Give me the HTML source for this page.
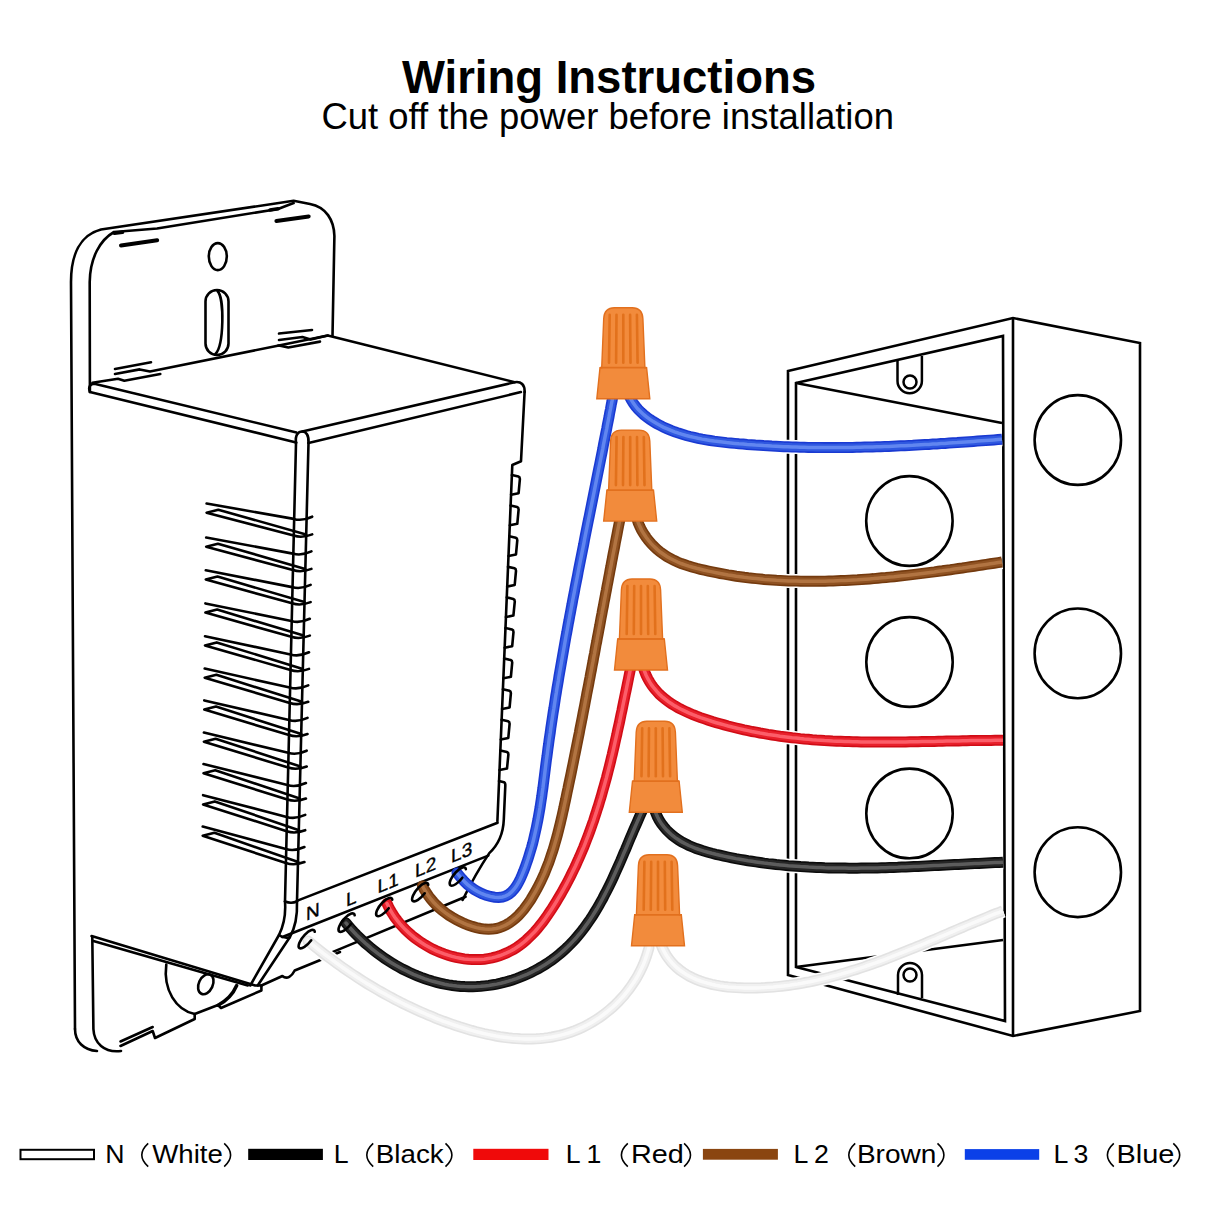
<!DOCTYPE html>
<html><head><meta charset="utf-8">
<style>
html,body{margin:0;padding:0;background:#fff;}
body{width:1214px;height:1214px;overflow:hidden;position:relative;}
svg{position:absolute;left:0;top:0;}
text{font-family:"Liberation Sans",sans-serif;}
</style></head><body>
<svg width="1214" height="1214" viewBox="0 0 1214 1214">
<rect width="1214" height="1214" fill="#fff"/>
<text x="402" y="92.5" font-size="45.5" font-weight="bold" fill="#000" textLength="414" lengthAdjust="spacingAndGlyphs">Wiring Instructions</text>
<text x="321.5" y="129" font-size="36" fill="#000" textLength="572.5" lengthAdjust="spacingAndGlyphs">Cut off the power before installation</text>

<g id="box" fill="none" stroke="#000" stroke-width="2.6" stroke-linejoin="miter">
<polygon points="788,371 1013,318 1140,343 1140,1011 1013,1036 788,975" fill="#fff"/>
<line x1="1013" y1="318" x2="1013" y2="1036"/>
<polygon points="796,383 1003,336 1005,1021 796,967"/>
<line x1="796" y1="383" x2="1002" y2="423"/>
<line x1="796" y1="967" x2="1003" y2="940"/>
<ellipse cx="1077.8" cy="440" rx="43.2" ry="44.9"/>
<ellipse cx="1077.8" cy="653.4" rx="43.2" ry="44.9"/>
<ellipse cx="1077.8" cy="872.2" rx="43.2" ry="44.9"/>
<ellipse cx="909.4" cy="521" rx="43.2" ry="44.9"/>
<ellipse cx="909.5" cy="662" rx="43.2" ry="44.9"/>
<ellipse cx="909.5" cy="813.5" rx="43.2" ry="44.9"/>
<path d="M897.5,359 V381 A12.2,12.2 0 0 0 921.9,381 V356" stroke-width="2.5"/>
<circle cx="910" cy="382" r="6.5" stroke-width="2.5"/>
<path d="M898,995 V975 A12,12 0 0 1 922,975 V998" stroke-width="2.5"/>
<circle cx="910" cy="975" r="6.5" stroke-width="2.5"/>
</g>

<g id="switch" fill="none" stroke="#000" stroke-width="2.6" stroke-linecap="round" stroke-linejoin="round">
<!-- plate outer -->
<path d="M75,1029 L71,282 C71,255 80,235 101,229.5 L293.6,200.8 L310,204 C326,207 334,220 334.4,236 L332.5,336"/>
<path d="M75,1029 C75,1042 84,1050 97,1051"/>
<!-- plate inner -->
<path d="M89.9,392 L89.7,282 C90,258 100,240 114,232 L157,228.5 L278,209 L293.6,203"/>
<path d="M92.3,937 L93.4,1029 C94,1043 104,1053 121,1051"/>
<ellipse cx="217.8" cy="256.6" rx="9" ry="13.5"/>
<rect x="205.5" y="290" width="23" height="65" rx="11.5"/>
<path d="M217.5,291 C224.5,298 224,345 215.5,354"/>
<path d="M121,245.5 L157.2,240.2" stroke-width="4"/>
<path d="M114.5,233.3 L122.5,232.2" stroke-width="3.6"/>
<path d="M270,210 L278,208.8" stroke-width="3.6"/>
<path d="M276.4,221 L308.7,216.4" stroke-width="4"/>
<!-- marks near top face -->
<path d="M115,369 L151,362.2"/>
<path d="M115,374 L139.7,369.4 L150,371.5 L277.7,345.7"/>
<path d="M92.4,382.8 L118,378.7 L124.3,380.7 L160.3,374"/>
<path d="M279,333.5 L312,330"/>
<path d="M279,340 L302.4,337 L310.6,339.6 L327.8,335.6"/>
<path d="M279,345.5 L288.3,347.5 L320,341.6"/>
<path d="M277.7,345.7 L327.8,335.6 L514.7,382.2"/>
<!-- top face front edge -->
<path d="M94.4,383.8 L296.5,432.5 M89.9,392 C88,387 90,384 94.4,383.8 M89.9,392 L296.2,442.5"/>
<path d="M296,443 C295,435 298,431.5 302.3,431.5 C306,431.5 309,435 308.5,443"/>
<path d="M302.3,431.5 L514.7,382.2 C521,381 525,385 524.6,392"/>
<path d="M308.5,443 L520.9,392.1"/>
<!-- body front verticals -->
<path d="M296,443 L285,901.5"/>
<path d="M308.5,443 L297,901.5"/>
<path d="M285,901.5 Q291,904 297,901.5"/>
<!-- terminal strip -->
<path d="M296.8,900.9 L497.6,822.7"/>
<path d="M499,781 L504,782.2 Q505.5,783 505.3,786 L503.8,819.5 C503.3,833 498,845 489.3,853.1 C482,864 470,885 462.6,900"/>
<path d="M282.4,937 L488.3,855.6"/>
<path d="M331.8,952.4 L465.6,896.8"/>
<path d="M285,901.5 C286,915 284,925 279,935 L250.3,985.5"/>
<path d="M297,901.5 C297.5,915 295,928 289.8,937.3 L257.7,985.5"/>
<path d="M279,935 Q284,939 289.8,937.3"/>
<path d="M261.4,985.5 L282.4,976 C287,980 292,976 294.7,970.5 L340,952"/>
<!-- bottom plate -->
<path d="M91.6,936 L255.2,985.5 L261.4,985.5"/>
<path d="M93.4,941 L247.8,985.5"/>
<path d="M120.5,1046 L152.7,1031 L155,1038 L194.7,1019 L194.7,1014 L218,1005 L221,1008 L261.4,990.5 L261.4,985.5"/>
<path d="M120.5,1041.5 L152.7,1027"/>
<path d="M166.3,964.5 C163,990 176,1010 194.7,1014"/>
<path d="M236.7,985.5 C233,994 226,1001 218.1,1005.2" stroke-width="3.5"/>
<ellipse cx="205.8" cy="984.2" rx="7" ry="10.5" transform="rotate(25 205.8 984.2)"/>

<path d="M206.6,503.5 L293.7,518.9 Q302.0,521.5 312.2,516.7"/>
<path d="M306.0,534.4 L218.3,509.7 L206.6,512.7 L293.7,535.6 Q302.0,538.5 312.2,534.4"/>
<path d="M206.2,537.5 L292.9,553.6 Q301.2,556.2 311.4,551.4"/>
<path d="M305.2,568.9 L217.9,543.7 L206.2,546.7 L292.9,570.0 Q301.2,572.9 311.4,568.9"/>
<path d="M205.8,570.3 L292.1,587.1 Q300.4,589.7 310.6,584.9"/>
<path d="M304.4,602.1 L217.5,576.5 L205.8,579.5 L292.1,603.3 Q300.4,606.2 310.6,602.1"/>
<path d="M205.4,603.4 L291.3,620.9 Q299.6,623.5 309.8,618.8"/>
<path d="M303.6,635.6 L217.1,609.6 L205.4,612.6 L291.3,636.8 Q299.6,639.7 309.8,635.6"/>
<path d="M205.0,636.2 L290.5,654.4 Q298.8,657.0 309.0,652.3"/>
<path d="M302.8,668.9 L216.7,642.4 L205.0,645.4 L290.5,670.0 Q298.8,672.9 309.0,668.9"/>
<path d="M204.7,668.6 L289.7,687.5 Q298.0,690.1 308.2,685.4"/>
<path d="M302.0,701.8 L216.4,674.8 L204.7,677.8 L289.7,702.9 Q298.0,705.8 308.2,701.8"/>
<path d="M204.3,700.4 L289.0,720.0 Q297.3,722.6 307.5,717.9"/>
<path d="M301.3,734.0 L216.0,706.6 L204.3,709.6 L289.0,735.1 Q297.3,738.0 307.5,734.0"/>
<path d="M203.9,732.5 L288.2,752.8 Q296.5,755.4 306.7,750.7"/>
<path d="M300.5,766.5 L215.6,738.7 L203.9,741.7 L288.2,767.6 Q296.5,770.5 306.7,766.5"/>
<path d="M203.5,764.0 L287.4,785.0 Q295.7,787.6 305.9,783.0"/>
<path d="M299.7,798.5 L215.2,770.2 L203.5,773.2 L287.4,799.5 Q295.7,802.4 305.9,798.5"/>
<path d="M203.1,795.2 L286.7,816.9 Q295.0,819.5 305.2,814.9"/>
<path d="M299.0,830.2 L214.8,801.4 L203.1,804.4 L286.7,831.2 Q295.0,834.1 305.2,830.2"/>
<path d="M202.7,826.6 L285.9,849.0 Q294.2,851.6 304.4,847.0"/>
<path d="M298.2,862.0 L214.4,832.8 L202.7,835.8 L285.9,863.0 Q294.2,865.9 304.4,862.0"/>
<path d="M524.6,392 L521,461.3 L512.3,465 L497.4,821"/>
<path d="M511.9,475.0 L518.4,476.5 Q519.9,477.0 519.9,479.0 L518.6,493.2 L511.1,494.7 M510.6,505.6 L517.1,507.1 Q518.6,507.6 518.6,509.6 L517.3,523.8 L509.8,525.3 M509.3,536.2 L515.8,537.7 Q517.3,538.2 517.3,540.2 L516.0,554.4 L508.5,555.9 M508.0,566.8 L514.5,568.3 Q516.0,568.8 516.0,570.8 L514.7,585.0 L507.2,586.5 M506.8,597.4 L513.3,598.9 Q514.8,599.4 514.8,601.4 L513.4,615.6 L505.9,617.1 M505.5,628.0 L512.0,629.5 Q513.5,630.0 513.5,632.0 L512.2,646.2 L504.7,647.7 M504.2,658.6 L510.7,660.1 Q512.2,660.6 512.2,662.6 L510.9,676.8 L503.4,678.3 M502.9,689.2 L509.4,690.7 Q510.9,691.2 510.9,693.2 L509.6,707.4 L502.1,708.9 M501.6,719.8 L508.1,721.3 Q509.6,721.8 509.6,723.8 L508.3,738.0 L500.8,739.5 M500.4,750.4 L506.9,751.9 Q508.4,752.4 508.4,754.4 L507.0,768.6 L499.5,770.1 "/>
</g>
<g id="wires" fill="none" stroke-linecap="round">
<path d="M308.0,941.0 L311.2,943.6 L314.4,946.2 L317.6,948.8 L320.8,951.3 L324.0,953.8 L327.3,956.3 L330.5,958.7 L333.8,961.1 L337.1,963.5 L340.4,965.9 L343.7,968.2 L347.0,970.5 L350.3,972.8 L353.7,975.0 L357.0,977.2 L360.4,979.4 L363.8,981.6 L367.2,983.7 L370.7,985.8 L374.1,987.8 L377.6,989.9 L381.1,991.9 L384.6,993.8 L388.1,995.8 L391.7,997.7 L395.2,999.6 L398.8,1001.4 L402.4,1003.3 L406.1,1005.1 L409.7,1006.8 L413.4,1008.5 L417.1,1010.2 L420.9,1011.9 L424.6,1013.5 L428.4,1015.2 L432.2,1016.7 L436.0,1018.3 L439.9,1019.8 L443.8,1021.3 L447.7,1022.7 L451.7,1024.1 L455.6,1025.5 L459.6,1026.8 L463.6,1028.0 L467.6,1029.2 L471.6,1030.4 L475.6,1031.5 L479.7,1032.5 L483.7,1033.5 L487.8,1034.4 L491.9,1035.2 L495.9,1036.0 L500.0,1036.7 L504.1,1037.3 L508.1,1037.8 L512.2,1038.2 L516.2,1038.5 L520.3,1038.8 L524.3,1038.9 L528.3,1039.0 L532.3,1038.9 L536.3,1038.8 L540.3,1038.5 L544.2,1038.1 L548.2,1037.6 L552.1,1037.0 L555.9,1036.2 L559.8,1035.4 L563.6,1034.4 L567.4,1033.3 L571.2,1032.0 L574.9,1030.6 L578.6,1029.1 L582.3,1027.4 L585.9,1025.7 L589.4,1023.8 L592.9,1021.7 L596.3,1019.6 L599.7,1017.4 L603.0,1015.0 L606.2,1012.5 L609.4,1009.9 L612.5,1007.3 L615.5,1004.5 L618.4,1001.6 L621.2,998.6 L623.9,995.6 L626.5,992.4 L629.0,989.2 L631.4,985.8 L633.7,982.4 L635.9,979.0 L638.0,975.4 L639.9,971.8 L641.7,968.1 L643.4,964.4 L644.9,960.6 L646.3,956.7 L647.5,952.8 L648.7,948.8 L649.6,944.7 L650.4,940.7 L651.0,936.5" stroke="#fff" stroke-width="14"/>
<path d="M308.0,941.0 L311.2,943.6 L314.4,946.2 L317.6,948.8 L320.8,951.3 L324.0,953.8 L327.3,956.3 L330.5,958.7 L333.8,961.1 L337.1,963.5 L340.4,965.9 L343.7,968.2 L347.0,970.5 L350.3,972.8 L353.7,975.0 L357.0,977.2 L360.4,979.4 L363.8,981.6 L367.2,983.7 L370.7,985.8 L374.1,987.8 L377.6,989.9 L381.1,991.9 L384.6,993.8 L388.1,995.8 L391.7,997.7 L395.2,999.6 L398.8,1001.4 L402.4,1003.3 L406.1,1005.1 L409.7,1006.8 L413.4,1008.5 L417.1,1010.2 L420.9,1011.9 L424.6,1013.5 L428.4,1015.2 L432.2,1016.7 L436.0,1018.3 L439.9,1019.8 L443.8,1021.3 L447.7,1022.7 L451.7,1024.1 L455.6,1025.5 L459.6,1026.8 L463.6,1028.0 L467.6,1029.2 L471.6,1030.4 L475.6,1031.5 L479.7,1032.5 L483.7,1033.5 L487.8,1034.4 L491.9,1035.2 L495.9,1036.0 L500.0,1036.7 L504.1,1037.3 L508.1,1037.8 L512.2,1038.2 L516.2,1038.5 L520.3,1038.8 L524.3,1038.9 L528.3,1039.0 L532.3,1038.9 L536.3,1038.8 L540.3,1038.5 L544.2,1038.1 L548.2,1037.6 L552.1,1037.0 L555.9,1036.2 L559.8,1035.4 L563.6,1034.4 L567.4,1033.3 L571.2,1032.0 L574.9,1030.6 L578.6,1029.1 L582.3,1027.4 L585.9,1025.7 L589.4,1023.8 L592.9,1021.7 L596.3,1019.6 L599.7,1017.4 L603.0,1015.0 L606.2,1012.5 L609.4,1009.9 L612.5,1007.3 L615.5,1004.5 L618.4,1001.6 L621.2,998.6 L623.9,995.6 L626.5,992.4 L629.0,989.2 L631.4,985.8 L633.7,982.4 L635.9,979.0 L638.0,975.4 L639.9,971.8 L641.7,968.1 L643.4,964.4 L644.9,960.6 L646.3,956.7 L647.5,952.8 L648.7,948.8 L649.6,944.7 L650.4,940.7 L651.0,936.5" stroke="#e2e2e2" stroke-width="11"/>
<path d="M308.0,941.0 L311.2,943.6 L314.4,946.2 L317.6,948.8 L320.8,951.3 L324.0,953.8 L327.3,956.3 L330.5,958.7 L333.8,961.1 L337.1,963.5 L340.4,965.9 L343.7,968.2 L347.0,970.5 L350.3,972.8 L353.7,975.0 L357.0,977.2 L360.4,979.4 L363.8,981.6 L367.2,983.7 L370.7,985.8 L374.1,987.8 L377.6,989.9 L381.1,991.9 L384.6,993.8 L388.1,995.8 L391.7,997.7 L395.2,999.6 L398.8,1001.4 L402.4,1003.3 L406.1,1005.1 L409.7,1006.8 L413.4,1008.5 L417.1,1010.2 L420.9,1011.9 L424.6,1013.5 L428.4,1015.2 L432.2,1016.7 L436.0,1018.3 L439.9,1019.8 L443.8,1021.3 L447.7,1022.7 L451.7,1024.1 L455.6,1025.5 L459.6,1026.8 L463.6,1028.0 L467.6,1029.2 L471.6,1030.4 L475.6,1031.5 L479.7,1032.5 L483.7,1033.5 L487.8,1034.4 L491.9,1035.2 L495.9,1036.0 L500.0,1036.7 L504.1,1037.3 L508.1,1037.8 L512.2,1038.2 L516.2,1038.5 L520.3,1038.8 L524.3,1038.9 L528.3,1039.0 L532.3,1038.9 L536.3,1038.8 L540.3,1038.5 L544.2,1038.1 L548.2,1037.6 L552.1,1037.0 L555.9,1036.2 L559.8,1035.4 L563.6,1034.4 L567.4,1033.3 L571.2,1032.0 L574.9,1030.6 L578.6,1029.1 L582.3,1027.4 L585.9,1025.7 L589.4,1023.8 L592.9,1021.7 L596.3,1019.6 L599.7,1017.4 L603.0,1015.0 L606.2,1012.5 L609.4,1009.9 L612.5,1007.3 L615.5,1004.5 L618.4,1001.6 L621.2,998.6 L623.9,995.6 L626.5,992.4 L629.0,989.2 L631.4,985.8 L633.7,982.4 L635.9,979.0 L638.0,975.4 L639.9,971.8 L641.7,968.1 L643.4,964.4 L644.9,960.6 L646.3,956.7 L647.5,952.8 L648.7,948.8 L649.6,944.7 L650.4,940.7 L651.0,936.5" stroke="#f0f0f0" stroke-width="7.8"/>
<path d="M308.0,941.0 L311.2,943.6 L314.4,946.2 L317.6,948.8 L320.8,951.3 L324.0,953.8 L327.3,956.3 L330.5,958.7 L333.8,961.1 L337.1,963.5 L340.4,965.9 L343.7,968.2 L347.0,970.5 L350.3,972.8 L353.7,975.0 L357.0,977.2 L360.4,979.4 L363.8,981.6 L367.2,983.7 L370.7,985.8 L374.1,987.8 L377.6,989.9 L381.1,991.9 L384.6,993.8 L388.1,995.8 L391.7,997.7 L395.2,999.6 L398.8,1001.4 L402.4,1003.3 L406.1,1005.1 L409.7,1006.8 L413.4,1008.5 L417.1,1010.2 L420.9,1011.9 L424.6,1013.5 L428.4,1015.2 L432.2,1016.7 L436.0,1018.3 L439.9,1019.8 L443.8,1021.3 L447.7,1022.7 L451.7,1024.1 L455.6,1025.5 L459.6,1026.8 L463.6,1028.0 L467.6,1029.2 L471.6,1030.4 L475.6,1031.5 L479.7,1032.5 L483.7,1033.5 L487.8,1034.4 L491.9,1035.2 L495.9,1036.0 L500.0,1036.7 L504.1,1037.3 L508.1,1037.8 L512.2,1038.2 L516.2,1038.5 L520.3,1038.8 L524.3,1038.9 L528.3,1039.0 L532.3,1038.9 L536.3,1038.8 L540.3,1038.5 L544.2,1038.1 L548.2,1037.6 L552.1,1037.0 L555.9,1036.2 L559.8,1035.4 L563.6,1034.4 L567.4,1033.3 L571.2,1032.0 L574.9,1030.6 L578.6,1029.1 L582.3,1027.4 L585.9,1025.7 L589.4,1023.8 L592.9,1021.7 L596.3,1019.6 L599.7,1017.4 L603.0,1015.0 L606.2,1012.5 L609.4,1009.9 L612.5,1007.3 L615.5,1004.5 L618.4,1001.6 L621.2,998.6 L623.9,995.6 L626.5,992.4 L629.0,989.2 L631.4,985.8 L633.7,982.4 L635.9,979.0 L638.0,975.4 L639.9,971.8 L641.7,968.1 L643.4,964.4 L644.9,960.6 L646.3,956.7 L647.5,952.8 L648.7,948.8 L649.6,944.7 L650.4,940.7 L651.0,936.5" stroke="#fcfcfc" stroke-width="3.5" stroke-opacity="0.85"/>
<path d="M658.7,936.0 L659.8,940.4 L661.1,944.6 L662.7,948.6 L664.6,952.3 L666.6,955.8 L668.9,959.0 L671.4,962.1 L674.0,965.0 L676.8,967.6 L679.8,970.1 L682.9,972.3 L686.2,974.4 L689.5,976.3 L693.0,978.0 L696.6,979.6 L700.3,981.0 L704.0,982.2 L707.8,983.3 L711.7,984.3 L715.7,985.2 L719.7,985.9 L723.8,986.5 L727.9,987.0 L732.0,987.3 L736.1,987.6 L740.3,987.8 L744.5,988.0 L748.7,988.0 L752.8,988.0 L757.0,987.9 L761.1,987.8 L765.2,987.6 L769.3,987.3 L773.4,987.0 L777.5,986.6 L781.5,986.2 L785.6,985.7 L789.6,985.2 L793.6,984.6 L797.6,984.0 L801.6,983.3 L805.6,982.5 L809.6,981.8 L813.5,981.0 L817.5,980.1 L821.4,979.2 L825.3,978.3 L829.3,977.3 L833.2,976.2 L837.1,975.2 L841.0,974.1 L844.8,973.0 L848.7,971.8 L852.6,970.6 L856.4,969.4 L860.3,968.1 L864.1,966.9 L867.9,965.5 L871.7,964.2 L875.6,962.9 L879.4,961.5 L883.2,960.1 L887.0,958.6 L890.8,957.2 L894.5,955.7 L898.3,954.2 L902.1,952.7 L905.9,951.2 L909.6,949.7 L913.4,948.2 L917.1,946.6 L920.9,945.1 L924.6,943.5 L928.4,941.9 L932.1,940.3 L935.9,938.8 L939.6,937.2 L943.3,935.6 L947.1,934.0 L950.8,932.4 L954.5,930.8 L958.2,929.2 L962.0,927.6 L965.7,926.0 L969.4,924.5 L973.2,922.9 L976.9,921.3 L980.6,919.8 L984.3,918.3 L988.1,916.7 L991.8,915.2 L995.5,913.7 L999.3,912.3 L1003.0,910.8" stroke="#fff" stroke-width="14" stroke-linecap="butt"/>
<path d="M658.7,936.0 L659.8,940.4 L661.1,944.6 L662.7,948.6 L664.6,952.3 L666.6,955.8 L668.9,959.0 L671.4,962.1 L674.0,965.0 L676.8,967.6 L679.8,970.1 L682.9,972.3 L686.2,974.4 L689.5,976.3 L693.0,978.0 L696.6,979.6 L700.3,981.0 L704.0,982.2 L707.8,983.3 L711.7,984.3 L715.7,985.2 L719.7,985.9 L723.8,986.5 L727.9,987.0 L732.0,987.3 L736.1,987.6 L740.3,987.8 L744.5,988.0 L748.7,988.0 L752.8,988.0 L757.0,987.9 L761.1,987.8 L765.2,987.6 L769.3,987.3 L773.4,987.0 L777.5,986.6 L781.5,986.2 L785.6,985.7 L789.6,985.2 L793.6,984.6 L797.6,984.0 L801.6,983.3 L805.6,982.5 L809.6,981.8 L813.5,981.0 L817.5,980.1 L821.4,979.2 L825.3,978.3 L829.3,977.3 L833.2,976.2 L837.1,975.2 L841.0,974.1 L844.8,973.0 L848.7,971.8 L852.6,970.6 L856.4,969.4 L860.3,968.1 L864.1,966.9 L867.9,965.5 L871.7,964.2 L875.6,962.9 L879.4,961.5 L883.2,960.1 L887.0,958.6 L890.8,957.2 L894.5,955.7 L898.3,954.2 L902.1,952.7 L905.9,951.2 L909.6,949.7 L913.4,948.2 L917.1,946.6 L920.9,945.1 L924.6,943.5 L928.4,941.9 L932.1,940.3 L935.9,938.8 L939.6,937.2 L943.3,935.6 L947.1,934.0 L950.8,932.4 L954.5,930.8 L958.2,929.2 L962.0,927.6 L965.7,926.0 L969.4,924.5 L973.2,922.9 L976.9,921.3 L980.6,919.8 L984.3,918.3 L988.1,916.7 L991.8,915.2 L995.5,913.7 L999.3,912.3 L1003.0,910.8" stroke="#e2e2e2" stroke-width="11" stroke-linecap="butt"/>
<path d="M658.7,936.0 L659.8,940.4 L661.1,944.6 L662.7,948.6 L664.6,952.3 L666.6,955.8 L668.9,959.0 L671.4,962.1 L674.0,965.0 L676.8,967.6 L679.8,970.1 L682.9,972.3 L686.2,974.4 L689.5,976.3 L693.0,978.0 L696.6,979.6 L700.3,981.0 L704.0,982.2 L707.8,983.3 L711.7,984.3 L715.7,985.2 L719.7,985.9 L723.8,986.5 L727.9,987.0 L732.0,987.3 L736.1,987.6 L740.3,987.8 L744.5,988.0 L748.7,988.0 L752.8,988.0 L757.0,987.9 L761.1,987.8 L765.2,987.6 L769.3,987.3 L773.4,987.0 L777.5,986.6 L781.5,986.2 L785.6,985.7 L789.6,985.2 L793.6,984.6 L797.6,984.0 L801.6,983.3 L805.6,982.5 L809.6,981.8 L813.5,981.0 L817.5,980.1 L821.4,979.2 L825.3,978.3 L829.3,977.3 L833.2,976.2 L837.1,975.2 L841.0,974.1 L844.8,973.0 L848.7,971.8 L852.6,970.6 L856.4,969.4 L860.3,968.1 L864.1,966.9 L867.9,965.5 L871.7,964.2 L875.6,962.9 L879.4,961.5 L883.2,960.1 L887.0,958.6 L890.8,957.2 L894.5,955.7 L898.3,954.2 L902.1,952.7 L905.9,951.2 L909.6,949.7 L913.4,948.2 L917.1,946.6 L920.9,945.1 L924.6,943.5 L928.4,941.9 L932.1,940.3 L935.9,938.8 L939.6,937.2 L943.3,935.6 L947.1,934.0 L950.8,932.4 L954.5,930.8 L958.2,929.2 L962.0,927.6 L965.7,926.0 L969.4,924.5 L973.2,922.9 L976.9,921.3 L980.6,919.8 L984.3,918.3 L988.1,916.7 L991.8,915.2 L995.5,913.7 L999.3,912.3 L1003.0,910.8" stroke="#f0f0f0" stroke-width="7.8" stroke-linecap="butt"/>
<path d="M658.7,936.0 L659.8,940.4 L661.1,944.6 L662.7,948.6 L664.6,952.3 L666.6,955.8 L668.9,959.0 L671.4,962.1 L674.0,965.0 L676.8,967.6 L679.8,970.1 L682.9,972.3 L686.2,974.4 L689.5,976.3 L693.0,978.0 L696.6,979.6 L700.3,981.0 L704.0,982.2 L707.8,983.3 L711.7,984.3 L715.7,985.2 L719.7,985.9 L723.8,986.5 L727.9,987.0 L732.0,987.3 L736.1,987.6 L740.3,987.8 L744.5,988.0 L748.7,988.0 L752.8,988.0 L757.0,987.9 L761.1,987.8 L765.2,987.6 L769.3,987.3 L773.4,987.0 L777.5,986.6 L781.5,986.2 L785.6,985.7 L789.6,985.2 L793.6,984.6 L797.6,984.0 L801.6,983.3 L805.6,982.5 L809.6,981.8 L813.5,981.0 L817.5,980.1 L821.4,979.2 L825.3,978.3 L829.3,977.3 L833.2,976.2 L837.1,975.2 L841.0,974.1 L844.8,973.0 L848.7,971.8 L852.6,970.6 L856.4,969.4 L860.3,968.1 L864.1,966.9 L867.9,965.5 L871.7,964.2 L875.6,962.9 L879.4,961.5 L883.2,960.1 L887.0,958.6 L890.8,957.2 L894.5,955.7 L898.3,954.2 L902.1,952.7 L905.9,951.2 L909.6,949.7 L913.4,948.2 L917.1,946.6 L920.9,945.1 L924.6,943.5 L928.4,941.9 L932.1,940.3 L935.9,938.8 L939.6,937.2 L943.3,935.6 L947.1,934.0 L950.8,932.4 L954.5,930.8 L958.2,929.2 L962.0,927.6 L965.7,926.0 L969.4,924.5 L973.2,922.9 L976.9,921.3 L980.6,919.8 L984.3,918.3 L988.1,916.7 L991.8,915.2 L995.5,913.7 L999.3,912.3 L1003.0,910.8" stroke="#fcfcfc" stroke-width="3.5" stroke-opacity="0.85" stroke-linecap="butt"/>
<path d="M346.0,923.0 L348.5,926.0 L351.1,929.0 L353.8,932.0 L356.6,934.9 L359.5,937.7 L362.4,940.5 L365.4,943.3 L368.5,945.9 L371.6,948.6 L374.8,951.1 L378.0,953.6 L381.4,956.0 L384.7,958.4 L388.2,960.7 L391.7,962.9 L395.2,965.0 L398.8,967.0 L402.4,969.0 L406.1,970.8 L409.8,972.6 L413.5,974.3 L417.3,975.9 L421.1,977.4 L425.0,978.8 L428.9,980.1 L432.8,981.3 L436.7,982.3 L440.7,983.3 L444.6,984.2 L448.6,984.9 L452.6,985.5 L456.6,986.0 L460.7,986.4 L464.7,986.6 L468.7,986.7 L472.8,986.7 L476.8,986.6 L480.8,986.3 L484.8,985.9 L488.9,985.4 L492.8,984.8 L496.8,984.1 L500.8,983.2 L504.7,982.2 L508.6,981.1 L512.5,979.9 L516.3,978.6 L520.1,977.2 L523.8,975.7 L527.6,974.1 L531.2,972.4 L534.8,970.5 L538.4,968.6 L541.9,966.6 L545.3,964.5 L548.7,962.3 L552.0,960.0 L555.2,957.6 L558.4,955.1 L561.4,952.5 L564.4,949.9 L567.4,947.1 L570.2,944.3 L572.9,941.4 L575.6,938.5 L578.2,935.4 L580.8,932.3 L583.2,929.2 L585.6,925.9 L588.0,922.6 L590.3,919.3 L592.5,915.9 L594.6,912.5 L596.8,909.0 L598.8,905.5 L600.8,901.9 L602.8,898.3 L604.7,894.6 L606.6,891.0 L608.5,887.3 L610.3,883.6 L612.1,879.8 L613.8,876.1 L615.5,872.3 L617.2,868.5 L618.9,864.7 L620.6,860.9 L622.2,857.1 L623.8,853.3 L625.5,849.5 L627.1,845.7 L628.6,842.0 L630.2,838.2 L631.8,834.5 L633.4,830.7 L635.0,827.0 L636.6,823.4 L638.2,819.7 L639.8,816.1 L641.4,812.5 L643.1,809.0 L644.7,805.5 L646.4,802.0" stroke="#0c0c0c" stroke-width="11"/>
<path d="M346.0,923.0 L348.5,926.0 L351.1,929.0 L353.8,932.0 L356.6,934.9 L359.5,937.7 L362.4,940.5 L365.4,943.3 L368.5,945.9 L371.6,948.6 L374.8,951.1 L378.0,953.6 L381.4,956.0 L384.7,958.4 L388.2,960.7 L391.7,962.9 L395.2,965.0 L398.8,967.0 L402.4,969.0 L406.1,970.8 L409.8,972.6 L413.5,974.3 L417.3,975.9 L421.1,977.4 L425.0,978.8 L428.9,980.1 L432.8,981.3 L436.7,982.3 L440.7,983.3 L444.6,984.2 L448.6,984.9 L452.6,985.5 L456.6,986.0 L460.7,986.4 L464.7,986.6 L468.7,986.7 L472.8,986.7 L476.8,986.6 L480.8,986.3 L484.8,985.9 L488.9,985.4 L492.8,984.8 L496.8,984.1 L500.8,983.2 L504.7,982.2 L508.6,981.1 L512.5,979.9 L516.3,978.6 L520.1,977.2 L523.8,975.7 L527.6,974.1 L531.2,972.4 L534.8,970.5 L538.4,968.6 L541.9,966.6 L545.3,964.5 L548.7,962.3 L552.0,960.0 L555.2,957.6 L558.4,955.1 L561.4,952.5 L564.4,949.9 L567.4,947.1 L570.2,944.3 L572.9,941.4 L575.6,938.5 L578.2,935.4 L580.8,932.3 L583.2,929.2 L585.6,925.9 L588.0,922.6 L590.3,919.3 L592.5,915.9 L594.6,912.5 L596.8,909.0 L598.8,905.5 L600.8,901.9 L602.8,898.3 L604.7,894.6 L606.6,891.0 L608.5,887.3 L610.3,883.6 L612.1,879.8 L613.8,876.1 L615.5,872.3 L617.2,868.5 L618.9,864.7 L620.6,860.9 L622.2,857.1 L623.8,853.3 L625.5,849.5 L627.1,845.7 L628.6,842.0 L630.2,838.2 L631.8,834.5 L633.4,830.7 L635.0,827.0 L636.6,823.4 L638.2,819.7 L639.8,816.1 L641.4,812.5 L643.1,809.0 L644.7,805.5 L646.4,802.0" stroke="#262626" stroke-width="7.8"/>
<path d="M346.0,923.0 L348.5,926.0 L351.1,929.0 L353.8,932.0 L356.6,934.9 L359.5,937.7 L362.4,940.5 L365.4,943.3 L368.5,945.9 L371.6,948.6 L374.8,951.1 L378.0,953.6 L381.4,956.0 L384.7,958.4 L388.2,960.7 L391.7,962.9 L395.2,965.0 L398.8,967.0 L402.4,969.0 L406.1,970.8 L409.8,972.6 L413.5,974.3 L417.3,975.9 L421.1,977.4 L425.0,978.8 L428.9,980.1 L432.8,981.3 L436.7,982.3 L440.7,983.3 L444.6,984.2 L448.6,984.9 L452.6,985.5 L456.6,986.0 L460.7,986.4 L464.7,986.6 L468.7,986.7 L472.8,986.7 L476.8,986.6 L480.8,986.3 L484.8,985.9 L488.9,985.4 L492.8,984.8 L496.8,984.1 L500.8,983.2 L504.7,982.2 L508.6,981.1 L512.5,979.9 L516.3,978.6 L520.1,977.2 L523.8,975.7 L527.6,974.1 L531.2,972.4 L534.8,970.5 L538.4,968.6 L541.9,966.6 L545.3,964.5 L548.7,962.3 L552.0,960.0 L555.2,957.6 L558.4,955.1 L561.4,952.5 L564.4,949.9 L567.4,947.1 L570.2,944.3 L572.9,941.4 L575.6,938.5 L578.2,935.4 L580.8,932.3 L583.2,929.2 L585.6,925.9 L588.0,922.6 L590.3,919.3 L592.5,915.9 L594.6,912.5 L596.8,909.0 L598.8,905.5 L600.8,901.9 L602.8,898.3 L604.7,894.6 L606.6,891.0 L608.5,887.3 L610.3,883.6 L612.1,879.8 L613.8,876.1 L615.5,872.3 L617.2,868.5 L618.9,864.7 L620.6,860.9 L622.2,857.1 L623.8,853.3 L625.5,849.5 L627.1,845.7 L628.6,842.0 L630.2,838.2 L631.8,834.5 L633.4,830.7 L635.0,827.0 L636.6,823.4 L638.2,819.7 L639.8,816.1 L641.4,812.5 L643.1,809.0 L644.7,805.5 L646.4,802.0" stroke="#666666" stroke-width="3.5" stroke-opacity="0.85"/>
<path d="M652.5,800.5 L653.3,804.9 L654.4,809.1 L655.8,813.0 L657.4,816.8 L659.3,820.4 L661.5,823.7 L663.9,826.9 L666.4,829.8 L669.2,832.6 L672.1,835.2 L675.2,837.6 L678.5,839.8 L681.8,841.9 L685.3,843.7 L688.8,845.5 L692.5,847.0 L696.2,848.5 L700.1,849.8 L703.9,851.1 L707.9,852.2 L711.8,853.3 L715.8,854.3 L719.8,855.2 L723.8,856.1 L727.9,857.0 L731.9,857.8 L735.9,858.6 L739.9,859.3 L744.0,860.0 L748.0,860.7 L752.0,861.3 L756.0,861.9 L760.1,862.5 L764.1,863.1 L768.1,863.6 L772.2,864.0 L776.2,864.5 L780.3,864.9 L784.3,865.3 L788.3,865.7 L792.4,866.0 L796.4,866.3 L800.5,866.6 L804.5,866.8 L808.6,867.1 L812.6,867.3 L816.6,867.5 L820.7,867.6 L824.7,867.8 L828.8,867.9 L832.8,868.0 L836.9,868.1 L840.9,868.1 L845.0,868.1 L849.0,868.2 L853.1,868.2 L857.1,868.2 L861.2,868.1 L865.3,868.1 L869.3,868.0 L873.4,868.0 L877.4,867.9 L881.5,867.8 L885.5,867.7 L889.6,867.5 L893.6,867.4 L897.7,867.3 L901.7,867.1 L905.8,867.0 L909.9,866.8 L913.9,866.6 L918.0,866.4 L922.0,866.2 L926.1,866.0 L930.1,865.8 L934.2,865.6 L938.2,865.4 L942.3,865.2 L946.3,865.0 L950.4,864.8 L954.4,864.6 L958.5,864.4 L962.5,864.2 L966.6,864.0 L970.6,863.8 L974.7,863.6 L978.7,863.4 L982.8,863.2 L986.8,863.0 L990.9,862.8 L994.9,862.6 L999.0,862.5 L1003.0,862.3" stroke="#fff" stroke-width="14" stroke-linecap="butt"/>
<path d="M652.5,800.5 L653.3,804.9 L654.4,809.1 L655.8,813.0 L657.4,816.8 L659.3,820.4 L661.5,823.7 L663.9,826.9 L666.4,829.8 L669.2,832.6 L672.1,835.2 L675.2,837.6 L678.5,839.8 L681.8,841.9 L685.3,843.7 L688.8,845.5 L692.5,847.0 L696.2,848.5 L700.1,849.8 L703.9,851.1 L707.9,852.2 L711.8,853.3 L715.8,854.3 L719.8,855.2 L723.8,856.1 L727.9,857.0 L731.9,857.8 L735.9,858.6 L739.9,859.3 L744.0,860.0 L748.0,860.7 L752.0,861.3 L756.0,861.9 L760.1,862.5 L764.1,863.1 L768.1,863.6 L772.2,864.0 L776.2,864.5 L780.3,864.9 L784.3,865.3 L788.3,865.7 L792.4,866.0 L796.4,866.3 L800.5,866.6 L804.5,866.8 L808.6,867.1 L812.6,867.3 L816.6,867.5 L820.7,867.6 L824.7,867.8 L828.8,867.9 L832.8,868.0 L836.9,868.1 L840.9,868.1 L845.0,868.1 L849.0,868.2 L853.1,868.2 L857.1,868.2 L861.2,868.1 L865.3,868.1 L869.3,868.0 L873.4,868.0 L877.4,867.9 L881.5,867.8 L885.5,867.7 L889.6,867.5 L893.6,867.4 L897.7,867.3 L901.7,867.1 L905.8,867.0 L909.9,866.8 L913.9,866.6 L918.0,866.4 L922.0,866.2 L926.1,866.0 L930.1,865.8 L934.2,865.6 L938.2,865.4 L942.3,865.2 L946.3,865.0 L950.4,864.8 L954.4,864.6 L958.5,864.4 L962.5,864.2 L966.6,864.0 L970.6,863.8 L974.7,863.6 L978.7,863.4 L982.8,863.2 L986.8,863.0 L990.9,862.8 L994.9,862.6 L999.0,862.5 L1003.0,862.3" stroke="#0c0c0c" stroke-width="11" stroke-linecap="butt"/>
<path d="M652.5,800.5 L653.3,804.9 L654.4,809.1 L655.8,813.0 L657.4,816.8 L659.3,820.4 L661.5,823.7 L663.9,826.9 L666.4,829.8 L669.2,832.6 L672.1,835.2 L675.2,837.6 L678.5,839.8 L681.8,841.9 L685.3,843.7 L688.8,845.5 L692.5,847.0 L696.2,848.5 L700.1,849.8 L703.9,851.1 L707.9,852.2 L711.8,853.3 L715.8,854.3 L719.8,855.2 L723.8,856.1 L727.9,857.0 L731.9,857.8 L735.9,858.6 L739.9,859.3 L744.0,860.0 L748.0,860.7 L752.0,861.3 L756.0,861.9 L760.1,862.5 L764.1,863.1 L768.1,863.6 L772.2,864.0 L776.2,864.5 L780.3,864.9 L784.3,865.3 L788.3,865.7 L792.4,866.0 L796.4,866.3 L800.5,866.6 L804.5,866.8 L808.6,867.1 L812.6,867.3 L816.6,867.5 L820.7,867.6 L824.7,867.8 L828.8,867.9 L832.8,868.0 L836.9,868.1 L840.9,868.1 L845.0,868.1 L849.0,868.2 L853.1,868.2 L857.1,868.2 L861.2,868.1 L865.3,868.1 L869.3,868.0 L873.4,868.0 L877.4,867.9 L881.5,867.8 L885.5,867.7 L889.6,867.5 L893.6,867.4 L897.7,867.3 L901.7,867.1 L905.8,867.0 L909.9,866.8 L913.9,866.6 L918.0,866.4 L922.0,866.2 L926.1,866.0 L930.1,865.8 L934.2,865.6 L938.2,865.4 L942.3,865.2 L946.3,865.0 L950.4,864.8 L954.4,864.6 L958.5,864.4 L962.5,864.2 L966.6,864.0 L970.6,863.8 L974.7,863.6 L978.7,863.4 L982.8,863.2 L986.8,863.0 L990.9,862.8 L994.9,862.6 L999.0,862.5 L1003.0,862.3" stroke="#262626" stroke-width="7.8" stroke-linecap="butt"/>
<path d="M652.5,800.5 L653.3,804.9 L654.4,809.1 L655.8,813.0 L657.4,816.8 L659.3,820.4 L661.5,823.7 L663.9,826.9 L666.4,829.8 L669.2,832.6 L672.1,835.2 L675.2,837.6 L678.5,839.8 L681.8,841.9 L685.3,843.7 L688.8,845.5 L692.5,847.0 L696.2,848.5 L700.1,849.8 L703.9,851.1 L707.9,852.2 L711.8,853.3 L715.8,854.3 L719.8,855.2 L723.8,856.1 L727.9,857.0 L731.9,857.8 L735.9,858.6 L739.9,859.3 L744.0,860.0 L748.0,860.7 L752.0,861.3 L756.0,861.9 L760.1,862.5 L764.1,863.1 L768.1,863.6 L772.2,864.0 L776.2,864.5 L780.3,864.9 L784.3,865.3 L788.3,865.7 L792.4,866.0 L796.4,866.3 L800.5,866.6 L804.5,866.8 L808.6,867.1 L812.6,867.3 L816.6,867.5 L820.7,867.6 L824.7,867.8 L828.8,867.9 L832.8,868.0 L836.9,868.1 L840.9,868.1 L845.0,868.1 L849.0,868.2 L853.1,868.2 L857.1,868.2 L861.2,868.1 L865.3,868.1 L869.3,868.0 L873.4,868.0 L877.4,867.9 L881.5,867.8 L885.5,867.7 L889.6,867.5 L893.6,867.4 L897.7,867.3 L901.7,867.1 L905.8,867.0 L909.9,866.8 L913.9,866.6 L918.0,866.4 L922.0,866.2 L926.1,866.0 L930.1,865.8 L934.2,865.6 L938.2,865.4 L942.3,865.2 L946.3,865.0 L950.4,864.8 L954.4,864.6 L958.5,864.4 L962.5,864.2 L966.6,864.0 L970.6,863.8 L974.7,863.6 L978.7,863.4 L982.8,863.2 L986.8,863.0 L990.9,862.8 L994.9,862.6 L999.0,862.5 L1003.0,862.3" stroke="#666666" stroke-width="3.5" stroke-opacity="0.85" stroke-linecap="butt"/>
<path d="M387.0,903.5 L388.7,907.0 L390.5,910.5 L392.6,913.9 L394.8,917.2 L397.2,920.4 L399.8,923.6 L402.5,926.6 L405.3,929.6 L408.3,932.4 L411.5,935.2 L414.7,937.8 L418.1,940.3 L421.6,942.7 L425.1,944.9 L428.8,947.0 L432.5,949.0 L436.3,950.8 L440.2,952.4 L444.1,953.9 L448.1,955.2 L452.1,956.4 L456.1,957.4 L460.2,958.2 L464.2,958.9 L468.3,959.3 L472.3,959.6 L476.3,959.6 L480.3,959.5 L484.3,959.2 L488.1,958.6 L492.0,957.9 L495.8,956.9 L499.5,955.8 L503.1,954.4 L506.7,952.9 L510.2,951.2 L513.6,949.4 L516.9,947.3 L520.1,945.1 L523.2,942.7 L526.2,940.1 L529.1,937.4 L531.9,934.6 L534.7,931.7 L537.4,928.6 L539.9,925.5 L542.5,922.3 L544.9,919.0 L547.3,915.6 L549.6,912.2 L551.9,908.7 L554.1,905.2 L556.3,901.7 L558.4,898.2 L560.5,894.7 L562.5,891.1 L564.5,887.5 L566.5,883.9 L568.4,880.3 L570.2,876.7 L572.0,873.0 L573.8,869.4 L575.6,865.7 L577.2,862.0 L578.9,858.3 L580.5,854.6 L582.1,850.8 L583.7,847.1 L585.2,843.3 L586.6,839.6 L588.1,835.8 L589.5,832.0 L590.9,828.2 L592.2,824.4 L593.6,820.6 L594.8,816.7 L596.1,812.9 L597.3,809.0 L598.6,805.1 L599.7,801.3 L600.9,797.4 L602.0,793.5 L603.1,789.6 L604.2,785.7 L605.3,781.8 L606.4,777.9 L607.4,773.9 L608.4,770.0 L609.4,766.1 L610.4,762.1 L611.3,758.2 L612.3,754.3 L613.2,750.3 L614.1,746.4 L615.0,742.4 L615.9,738.4 L616.8,734.5 L617.6,730.5 L618.5,726.5 L619.4,722.6 L620.2,718.6 L621.0,714.6 L621.9,710.7 L622.7,706.7 L623.5,702.7 L624.3,698.8 L625.1,694.8 L626.0,690.8 L626.8,686.9 L627.6,682.9 L628.4,679.0 L629.2,675.0 L630.0,671.1 L630.8,667.1 L631.7,663.2 L632.5,659.3" stroke="#d00c16" stroke-width="11"/>
<path d="M387.0,903.5 L388.7,907.0 L390.5,910.5 L392.6,913.9 L394.8,917.2 L397.2,920.4 L399.8,923.6 L402.5,926.6 L405.3,929.6 L408.3,932.4 L411.5,935.2 L414.7,937.8 L418.1,940.3 L421.6,942.7 L425.1,944.9 L428.8,947.0 L432.5,949.0 L436.3,950.8 L440.2,952.4 L444.1,953.9 L448.1,955.2 L452.1,956.4 L456.1,957.4 L460.2,958.2 L464.2,958.9 L468.3,959.3 L472.3,959.6 L476.3,959.6 L480.3,959.5 L484.3,959.2 L488.1,958.6 L492.0,957.9 L495.8,956.9 L499.5,955.8 L503.1,954.4 L506.7,952.9 L510.2,951.2 L513.6,949.4 L516.9,947.3 L520.1,945.1 L523.2,942.7 L526.2,940.1 L529.1,937.4 L531.9,934.6 L534.7,931.7 L537.4,928.6 L539.9,925.5 L542.5,922.3 L544.9,919.0 L547.3,915.6 L549.6,912.2 L551.9,908.7 L554.1,905.2 L556.3,901.7 L558.4,898.2 L560.5,894.7 L562.5,891.1 L564.5,887.5 L566.5,883.9 L568.4,880.3 L570.2,876.7 L572.0,873.0 L573.8,869.4 L575.6,865.7 L577.2,862.0 L578.9,858.3 L580.5,854.6 L582.1,850.8 L583.7,847.1 L585.2,843.3 L586.6,839.6 L588.1,835.8 L589.5,832.0 L590.9,828.2 L592.2,824.4 L593.6,820.6 L594.8,816.7 L596.1,812.9 L597.3,809.0 L598.6,805.1 L599.7,801.3 L600.9,797.4 L602.0,793.5 L603.1,789.6 L604.2,785.7 L605.3,781.8 L606.4,777.9 L607.4,773.9 L608.4,770.0 L609.4,766.1 L610.4,762.1 L611.3,758.2 L612.3,754.3 L613.2,750.3 L614.1,746.4 L615.0,742.4 L615.9,738.4 L616.8,734.5 L617.6,730.5 L618.5,726.5 L619.4,722.6 L620.2,718.6 L621.0,714.6 L621.9,710.7 L622.7,706.7 L623.5,702.7 L624.3,698.8 L625.1,694.8 L626.0,690.8 L626.8,686.9 L627.6,682.9 L628.4,679.0 L629.2,675.0 L630.0,671.1 L630.8,667.1 L631.7,663.2 L632.5,659.3" stroke="#e8202b" stroke-width="7.8"/>
<path d="M387.0,903.5 L388.7,907.0 L390.5,910.5 L392.6,913.9 L394.8,917.2 L397.2,920.4 L399.8,923.6 L402.5,926.6 L405.3,929.6 L408.3,932.4 L411.5,935.2 L414.7,937.8 L418.1,940.3 L421.6,942.7 L425.1,944.9 L428.8,947.0 L432.5,949.0 L436.3,950.8 L440.2,952.4 L444.1,953.9 L448.1,955.2 L452.1,956.4 L456.1,957.4 L460.2,958.2 L464.2,958.9 L468.3,959.3 L472.3,959.6 L476.3,959.6 L480.3,959.5 L484.3,959.2 L488.1,958.6 L492.0,957.9 L495.8,956.9 L499.5,955.8 L503.1,954.4 L506.7,952.9 L510.2,951.2 L513.6,949.4 L516.9,947.3 L520.1,945.1 L523.2,942.7 L526.2,940.1 L529.1,937.4 L531.9,934.6 L534.7,931.7 L537.4,928.6 L539.9,925.5 L542.5,922.3 L544.9,919.0 L547.3,915.6 L549.6,912.2 L551.9,908.7 L554.1,905.2 L556.3,901.7 L558.4,898.2 L560.5,894.7 L562.5,891.1 L564.5,887.5 L566.5,883.9 L568.4,880.3 L570.2,876.7 L572.0,873.0 L573.8,869.4 L575.6,865.7 L577.2,862.0 L578.9,858.3 L580.5,854.6 L582.1,850.8 L583.7,847.1 L585.2,843.3 L586.6,839.6 L588.1,835.8 L589.5,832.0 L590.9,828.2 L592.2,824.4 L593.6,820.6 L594.8,816.7 L596.1,812.9 L597.3,809.0 L598.6,805.1 L599.7,801.3 L600.9,797.4 L602.0,793.5 L603.1,789.6 L604.2,785.7 L605.3,781.8 L606.4,777.9 L607.4,773.9 L608.4,770.0 L609.4,766.1 L610.4,762.1 L611.3,758.2 L612.3,754.3 L613.2,750.3 L614.1,746.4 L615.0,742.4 L615.9,738.4 L616.8,734.5 L617.6,730.5 L618.5,726.5 L619.4,722.6 L620.2,718.6 L621.0,714.6 L621.9,710.7 L622.7,706.7 L623.5,702.7 L624.3,698.8 L625.1,694.8 L626.0,690.8 L626.8,686.9 L627.6,682.9 L628.4,679.0 L629.2,675.0 L630.0,671.1 L630.8,667.1 L631.7,663.2 L632.5,659.3" stroke="#ff6a74" stroke-width="3.5" stroke-opacity="0.85"/>
<path d="M641.2,658.5 L642.1,662.9 L643.2,667.2 L644.5,671.2 L646.0,675.0 L647.8,678.7 L649.8,682.1 L651.9,685.4 L654.3,688.5 L656.8,691.4 L659.4,694.2 L662.3,696.8 L665.2,699.2 L668.3,701.6 L671.6,703.8 L674.9,705.9 L678.3,707.8 L681.9,709.7 L685.5,711.4 L689.2,713.1 L692.9,714.7 L696.7,716.2 L700.6,717.6 L704.5,718.9 L708.4,720.2 L712.3,721.5 L716.3,722.7 L720.2,723.8 L724.2,724.9 L728.1,726.0 L732.1,727.0 L736.1,728.0 L740.0,728.9 L744.0,729.8 L748.0,730.6 L752.0,731.5 L756.0,732.2 L760.0,733.0 L764.0,733.7 L768.0,734.4 L772.0,735.0 L776.0,735.6 L780.0,736.2 L784.1,736.7 L788.1,737.2 L792.1,737.7 L796.2,738.1 L800.2,738.6 L804.2,739.0 L808.3,739.3 L812.3,739.7 L816.4,740.0 L820.4,740.2 L824.5,740.5 L828.5,740.7 L832.6,741.0 L836.7,741.2 L840.7,741.3 L844.8,741.5 L848.8,741.6 L852.9,741.7 L857.0,741.8 L861.1,741.9 L865.1,742.0 L869.2,742.0 L873.3,742.1 L877.3,742.1 L881.4,742.1 L885.5,742.1 L889.5,742.1 L893.6,742.0 L897.7,742.0 L901.8,742.0 L905.8,741.9 L909.9,741.8 L914.0,741.8 L918.0,741.7 L922.1,741.6 L926.2,741.6 L930.2,741.5 L934.3,741.4 L938.4,741.3 L942.4,741.2 L946.5,741.1 L950.5,741.0 L954.6,740.9 L958.6,740.9 L962.7,740.8 L966.7,740.7 L970.8,740.6 L974.8,740.6 L978.9,740.5 L982.9,740.4 L986.9,740.4 L990.9,740.4 L995.0,740.3 L999.0,740.3 L1003.0,740.3" stroke="#fff" stroke-width="14" stroke-linecap="butt"/>
<path d="M641.2,658.5 L642.1,662.9 L643.2,667.2 L644.5,671.2 L646.0,675.0 L647.8,678.7 L649.8,682.1 L651.9,685.4 L654.3,688.5 L656.8,691.4 L659.4,694.2 L662.3,696.8 L665.2,699.2 L668.3,701.6 L671.6,703.8 L674.9,705.9 L678.3,707.8 L681.9,709.7 L685.5,711.4 L689.2,713.1 L692.9,714.7 L696.7,716.2 L700.6,717.6 L704.5,718.9 L708.4,720.2 L712.3,721.5 L716.3,722.7 L720.2,723.8 L724.2,724.9 L728.1,726.0 L732.1,727.0 L736.1,728.0 L740.0,728.9 L744.0,729.8 L748.0,730.6 L752.0,731.5 L756.0,732.2 L760.0,733.0 L764.0,733.7 L768.0,734.4 L772.0,735.0 L776.0,735.6 L780.0,736.2 L784.1,736.7 L788.1,737.2 L792.1,737.7 L796.2,738.1 L800.2,738.6 L804.2,739.0 L808.3,739.3 L812.3,739.7 L816.4,740.0 L820.4,740.2 L824.5,740.5 L828.5,740.7 L832.6,741.0 L836.7,741.2 L840.7,741.3 L844.8,741.5 L848.8,741.6 L852.9,741.7 L857.0,741.8 L861.1,741.9 L865.1,742.0 L869.2,742.0 L873.3,742.1 L877.3,742.1 L881.4,742.1 L885.5,742.1 L889.5,742.1 L893.6,742.0 L897.7,742.0 L901.8,742.0 L905.8,741.9 L909.9,741.8 L914.0,741.8 L918.0,741.7 L922.1,741.6 L926.2,741.6 L930.2,741.5 L934.3,741.4 L938.4,741.3 L942.4,741.2 L946.5,741.1 L950.5,741.0 L954.6,740.9 L958.6,740.9 L962.7,740.8 L966.7,740.7 L970.8,740.6 L974.8,740.6 L978.9,740.5 L982.9,740.4 L986.9,740.4 L990.9,740.4 L995.0,740.3 L999.0,740.3 L1003.0,740.3" stroke="#d00c16" stroke-width="11" stroke-linecap="butt"/>
<path d="M641.2,658.5 L642.1,662.9 L643.2,667.2 L644.5,671.2 L646.0,675.0 L647.8,678.7 L649.8,682.1 L651.9,685.4 L654.3,688.5 L656.8,691.4 L659.4,694.2 L662.3,696.8 L665.2,699.2 L668.3,701.6 L671.6,703.8 L674.9,705.9 L678.3,707.8 L681.9,709.7 L685.5,711.4 L689.2,713.1 L692.9,714.7 L696.7,716.2 L700.6,717.6 L704.5,718.9 L708.4,720.2 L712.3,721.5 L716.3,722.7 L720.2,723.8 L724.2,724.9 L728.1,726.0 L732.1,727.0 L736.1,728.0 L740.0,728.9 L744.0,729.8 L748.0,730.6 L752.0,731.5 L756.0,732.2 L760.0,733.0 L764.0,733.7 L768.0,734.4 L772.0,735.0 L776.0,735.6 L780.0,736.2 L784.1,736.7 L788.1,737.2 L792.1,737.7 L796.2,738.1 L800.2,738.6 L804.2,739.0 L808.3,739.3 L812.3,739.7 L816.4,740.0 L820.4,740.2 L824.5,740.5 L828.5,740.7 L832.6,741.0 L836.7,741.2 L840.7,741.3 L844.8,741.5 L848.8,741.6 L852.9,741.7 L857.0,741.8 L861.1,741.9 L865.1,742.0 L869.2,742.0 L873.3,742.1 L877.3,742.1 L881.4,742.1 L885.5,742.1 L889.5,742.1 L893.6,742.0 L897.7,742.0 L901.8,742.0 L905.8,741.9 L909.9,741.8 L914.0,741.8 L918.0,741.7 L922.1,741.6 L926.2,741.6 L930.2,741.5 L934.3,741.4 L938.4,741.3 L942.4,741.2 L946.5,741.1 L950.5,741.0 L954.6,740.9 L958.6,740.9 L962.7,740.8 L966.7,740.7 L970.8,740.6 L974.8,740.6 L978.9,740.5 L982.9,740.4 L986.9,740.4 L990.9,740.4 L995.0,740.3 L999.0,740.3 L1003.0,740.3" stroke="#e8202b" stroke-width="7.8" stroke-linecap="butt"/>
<path d="M641.2,658.5 L642.1,662.9 L643.2,667.2 L644.5,671.2 L646.0,675.0 L647.8,678.7 L649.8,682.1 L651.9,685.4 L654.3,688.5 L656.8,691.4 L659.4,694.2 L662.3,696.8 L665.2,699.2 L668.3,701.6 L671.6,703.8 L674.9,705.9 L678.3,707.8 L681.9,709.7 L685.5,711.4 L689.2,713.1 L692.9,714.7 L696.7,716.2 L700.6,717.6 L704.5,718.9 L708.4,720.2 L712.3,721.5 L716.3,722.7 L720.2,723.8 L724.2,724.9 L728.1,726.0 L732.1,727.0 L736.1,728.0 L740.0,728.9 L744.0,729.8 L748.0,730.6 L752.0,731.5 L756.0,732.2 L760.0,733.0 L764.0,733.7 L768.0,734.4 L772.0,735.0 L776.0,735.6 L780.0,736.2 L784.1,736.7 L788.1,737.2 L792.1,737.7 L796.2,738.1 L800.2,738.6 L804.2,739.0 L808.3,739.3 L812.3,739.7 L816.4,740.0 L820.4,740.2 L824.5,740.5 L828.5,740.7 L832.6,741.0 L836.7,741.2 L840.7,741.3 L844.8,741.5 L848.8,741.6 L852.9,741.7 L857.0,741.8 L861.1,741.9 L865.1,742.0 L869.2,742.0 L873.3,742.1 L877.3,742.1 L881.4,742.1 L885.5,742.1 L889.5,742.1 L893.6,742.0 L897.7,742.0 L901.8,742.0 L905.8,741.9 L909.9,741.8 L914.0,741.8 L918.0,741.7 L922.1,741.6 L926.2,741.6 L930.2,741.5 L934.3,741.4 L938.4,741.3 L942.4,741.2 L946.5,741.1 L950.5,741.0 L954.6,740.9 L958.6,740.9 L962.7,740.8 L966.7,740.7 L970.8,740.6 L974.8,740.6 L978.9,740.5 L982.9,740.4 L986.9,740.4 L990.9,740.4 L995.0,740.3 L999.0,740.3 L1003.0,740.3" stroke="#ff6a74" stroke-width="3.5" stroke-opacity="0.85" stroke-linecap="butt"/>
<path d="M422.5,886.0 L424.3,889.5 L426.4,892.8 L428.6,896.1 L431.0,899.2 L433.6,902.2 L436.3,905.0 L439.2,907.8 L442.3,910.4 L445.5,912.9 L448.9,915.3 L452.5,917.5 L456.2,919.6 L460.0,921.5 L464.0,923.4 L468.0,925.0 L472.2,926.4 L476.3,927.6 L480.5,928.5 L484.6,929.1 L488.6,929.3 L492.4,929.1 L496.2,928.5 L499.8,927.6 L503.2,926.2 L506.5,924.6 L509.7,922.7 L512.8,920.4 L515.7,918.0 L518.6,915.3 L521.3,912.3 L523.9,909.3 L526.3,906.0 L528.7,902.7 L531.0,899.2 L533.1,895.7 L535.2,892.1 L537.2,888.5 L539.1,884.8 L540.9,881.2 L542.6,877.5 L544.3,873.8 L545.8,870.0 L547.3,866.2 L548.8,862.5 L550.1,858.7 L551.4,854.8 L552.7,851.0 L553.9,847.1 L555.0,843.3 L556.1,839.4 L557.2,835.5 L558.2,831.6 L559.2,827.7 L560.2,823.7 L561.1,819.8 L562.0,815.9 L562.9,811.9 L563.8,808.0 L564.6,804.0 L565.5,800.1 L566.3,796.1 L567.1,792.2 L568.0,788.2 L568.8,784.2 L569.6,780.3 L570.5,776.3 L571.3,772.4 L572.1,768.4 L572.9,764.5 L573.7,760.5 L574.5,756.5 L575.3,752.6 L576.1,748.6 L576.9,744.7 L577.7,740.7 L578.5,736.7 L579.3,732.8 L580.0,728.8 L580.8,724.8 L581.6,720.9 L582.4,716.9 L583.1,713.0 L583.9,709.0 L584.7,705.0 L585.4,701.1 L586.2,697.1 L586.9,693.1 L587.7,689.2 L588.5,685.2 L589.2,681.2 L590.0,677.3 L590.7,673.3 L591.5,669.3 L592.2,665.4 L593.0,661.4 L593.7,657.4 L594.5,653.5 L595.2,649.5 L595.9,645.5 L596.7,641.6 L597.4,637.6 L598.2,633.6 L598.9,629.7 L599.7,625.7 L600.4,621.7 L601.1,617.8 L601.9,613.8 L602.6,609.8 L603.4,605.9 L604.1,601.9 L604.9,597.9 L605.6,594.0 L606.4,590.0 L607.1,586.0 L607.9,582.0 L608.6,578.1 L609.4,574.1 L610.1,570.1 L610.9,566.2 L611.6,562.2 L612.4,558.2 L613.1,554.3 L613.9,550.3 L614.7,546.3 L615.4,542.4 L616.2,538.4 L617.0,534.4 L617.7,530.5 L618.5,526.5 L619.3,522.5 L620.1,518.6 L620.9,514.6 L621.6,510.6" stroke="#743a0e" stroke-width="11"/>
<path d="M422.5,886.0 L424.3,889.5 L426.4,892.8 L428.6,896.1 L431.0,899.2 L433.6,902.2 L436.3,905.0 L439.2,907.8 L442.3,910.4 L445.5,912.9 L448.9,915.3 L452.5,917.5 L456.2,919.6 L460.0,921.5 L464.0,923.4 L468.0,925.0 L472.2,926.4 L476.3,927.6 L480.5,928.5 L484.6,929.1 L488.6,929.3 L492.4,929.1 L496.2,928.5 L499.8,927.6 L503.2,926.2 L506.5,924.6 L509.7,922.7 L512.8,920.4 L515.7,918.0 L518.6,915.3 L521.3,912.3 L523.9,909.3 L526.3,906.0 L528.7,902.7 L531.0,899.2 L533.1,895.7 L535.2,892.1 L537.2,888.5 L539.1,884.8 L540.9,881.2 L542.6,877.5 L544.3,873.8 L545.8,870.0 L547.3,866.2 L548.8,862.5 L550.1,858.7 L551.4,854.8 L552.7,851.0 L553.9,847.1 L555.0,843.3 L556.1,839.4 L557.2,835.5 L558.2,831.6 L559.2,827.7 L560.2,823.7 L561.1,819.8 L562.0,815.9 L562.9,811.9 L563.8,808.0 L564.6,804.0 L565.5,800.1 L566.3,796.1 L567.1,792.2 L568.0,788.2 L568.8,784.2 L569.6,780.3 L570.5,776.3 L571.3,772.4 L572.1,768.4 L572.9,764.5 L573.7,760.5 L574.5,756.5 L575.3,752.6 L576.1,748.6 L576.9,744.7 L577.7,740.7 L578.5,736.7 L579.3,732.8 L580.0,728.8 L580.8,724.8 L581.6,720.9 L582.4,716.9 L583.1,713.0 L583.9,709.0 L584.7,705.0 L585.4,701.1 L586.2,697.1 L586.9,693.1 L587.7,689.2 L588.5,685.2 L589.2,681.2 L590.0,677.3 L590.7,673.3 L591.5,669.3 L592.2,665.4 L593.0,661.4 L593.7,657.4 L594.5,653.5 L595.2,649.5 L595.9,645.5 L596.7,641.6 L597.4,637.6 L598.2,633.6 L598.9,629.7 L599.7,625.7 L600.4,621.7 L601.1,617.8 L601.9,613.8 L602.6,609.8 L603.4,605.9 L604.1,601.9 L604.9,597.9 L605.6,594.0 L606.4,590.0 L607.1,586.0 L607.9,582.0 L608.6,578.1 L609.4,574.1 L610.1,570.1 L610.9,566.2 L611.6,562.2 L612.4,558.2 L613.1,554.3 L613.9,550.3 L614.7,546.3 L615.4,542.4 L616.2,538.4 L617.0,534.4 L617.7,530.5 L618.5,526.5 L619.3,522.5 L620.1,518.6 L620.9,514.6 L621.6,510.6" stroke="#8f5222" stroke-width="7.8"/>
<path d="M422.5,886.0 L424.3,889.5 L426.4,892.8 L428.6,896.1 L431.0,899.2 L433.6,902.2 L436.3,905.0 L439.2,907.8 L442.3,910.4 L445.5,912.9 L448.9,915.3 L452.5,917.5 L456.2,919.6 L460.0,921.5 L464.0,923.4 L468.0,925.0 L472.2,926.4 L476.3,927.6 L480.5,928.5 L484.6,929.1 L488.6,929.3 L492.4,929.1 L496.2,928.5 L499.8,927.6 L503.2,926.2 L506.5,924.6 L509.7,922.7 L512.8,920.4 L515.7,918.0 L518.6,915.3 L521.3,912.3 L523.9,909.3 L526.3,906.0 L528.7,902.7 L531.0,899.2 L533.1,895.7 L535.2,892.1 L537.2,888.5 L539.1,884.8 L540.9,881.2 L542.6,877.5 L544.3,873.8 L545.8,870.0 L547.3,866.2 L548.8,862.5 L550.1,858.7 L551.4,854.8 L552.7,851.0 L553.9,847.1 L555.0,843.3 L556.1,839.4 L557.2,835.5 L558.2,831.6 L559.2,827.7 L560.2,823.7 L561.1,819.8 L562.0,815.9 L562.9,811.9 L563.8,808.0 L564.6,804.0 L565.5,800.1 L566.3,796.1 L567.1,792.2 L568.0,788.2 L568.8,784.2 L569.6,780.3 L570.5,776.3 L571.3,772.4 L572.1,768.4 L572.9,764.5 L573.7,760.5 L574.5,756.5 L575.3,752.6 L576.1,748.6 L576.9,744.7 L577.7,740.7 L578.5,736.7 L579.3,732.8 L580.0,728.8 L580.8,724.8 L581.6,720.9 L582.4,716.9 L583.1,713.0 L583.9,709.0 L584.7,705.0 L585.4,701.1 L586.2,697.1 L586.9,693.1 L587.7,689.2 L588.5,685.2 L589.2,681.2 L590.0,677.3 L590.7,673.3 L591.5,669.3 L592.2,665.4 L593.0,661.4 L593.7,657.4 L594.5,653.5 L595.2,649.5 L595.9,645.5 L596.7,641.6 L597.4,637.6 L598.2,633.6 L598.9,629.7 L599.7,625.7 L600.4,621.7 L601.1,617.8 L601.9,613.8 L602.6,609.8 L603.4,605.9 L604.1,601.9 L604.9,597.9 L605.6,594.0 L606.4,590.0 L607.1,586.0 L607.9,582.0 L608.6,578.1 L609.4,574.1 L610.1,570.1 L610.9,566.2 L611.6,562.2 L612.4,558.2 L613.1,554.3 L613.9,550.3 L614.7,546.3 L615.4,542.4 L616.2,538.4 L617.0,534.4 L617.7,530.5 L618.5,526.5 L619.3,522.5 L620.1,518.6 L620.9,514.6 L621.6,510.6" stroke="#b77a48" stroke-width="3.5" stroke-opacity="0.85"/>
<path d="M635.2,511.2 L635.9,515.2 L637.0,519.1 L638.3,522.9 L639.9,526.6 L641.7,530.3 L643.8,533.8 L646.1,537.2 L648.6,540.5 L651.2,543.6 L654.1,546.6 L657.1,549.4 L660.2,552.0 L663.5,554.3 L666.8,556.5 L670.3,558.5 L673.9,560.3 L677.5,562.0 L681.2,563.5 L685.0,564.8 L688.8,566.1 L692.6,567.2 L696.5,568.3 L700.5,569.3 L704.4,570.2 L708.4,571.1 L712.3,571.9 L716.3,572.7 L720.3,573.5 L724.2,574.2 L728.2,574.9 L732.2,575.5 L736.2,576.2 L740.2,576.7 L744.2,577.3 L748.2,577.8 L752.2,578.2 L756.2,578.6 L760.3,579.0 L764.3,579.4 L768.3,579.7 L772.4,580.0 L776.4,580.3 L780.4,580.5 L784.5,580.7 L788.5,580.9 L792.6,581.0 L796.6,581.1 L800.6,581.2 L804.7,581.3 L808.8,581.3 L812.8,581.3 L816.9,581.3 L820.9,581.2 L825.0,581.2 L829.0,581.1 L833.1,581.0 L837.2,580.8 L841.2,580.6 L845.3,580.5 L849.4,580.2 L853.4,580.0 L857.5,579.8 L861.5,579.5 L865.6,579.2 L869.7,578.9 L873.7,578.6 L877.8,578.2 L881.8,577.8 L885.9,577.5 L889.9,577.1 L894.0,576.7 L898.0,576.2 L902.1,575.8 L906.1,575.4 L910.2,574.9 L914.2,574.4 L918.3,573.9 L922.3,573.4 L926.3,572.9 L930.3,572.4 L934.4,571.9 L938.4,571.3 L942.4,570.8 L946.4,570.2 L950.4,569.7 L954.4,569.1 L958.4,568.5 L962.4,568.0 L966.4,567.4 L970.4,566.8 L974.3,566.2 L978.3,565.6 L982.3,565.0 L986.2,564.4 L990.2,563.8 L994.1,563.2 L998.1,562.6 L1002.0,562.0" stroke="#fff" stroke-width="14" stroke-linecap="butt"/>
<path d="M635.2,511.2 L635.9,515.2 L637.0,519.1 L638.3,522.9 L639.9,526.6 L641.7,530.3 L643.8,533.8 L646.1,537.2 L648.6,540.5 L651.2,543.6 L654.1,546.6 L657.1,549.4 L660.2,552.0 L663.5,554.3 L666.8,556.5 L670.3,558.5 L673.9,560.3 L677.5,562.0 L681.2,563.5 L685.0,564.8 L688.8,566.1 L692.6,567.2 L696.5,568.3 L700.5,569.3 L704.4,570.2 L708.4,571.1 L712.3,571.9 L716.3,572.7 L720.3,573.5 L724.2,574.2 L728.2,574.9 L732.2,575.5 L736.2,576.2 L740.2,576.7 L744.2,577.3 L748.2,577.8 L752.2,578.2 L756.2,578.6 L760.3,579.0 L764.3,579.4 L768.3,579.7 L772.4,580.0 L776.4,580.3 L780.4,580.5 L784.5,580.7 L788.5,580.9 L792.6,581.0 L796.6,581.1 L800.6,581.2 L804.7,581.3 L808.8,581.3 L812.8,581.3 L816.9,581.3 L820.9,581.2 L825.0,581.2 L829.0,581.1 L833.1,581.0 L837.2,580.8 L841.2,580.6 L845.3,580.5 L849.4,580.2 L853.4,580.0 L857.5,579.8 L861.5,579.5 L865.6,579.2 L869.7,578.9 L873.7,578.6 L877.8,578.2 L881.8,577.8 L885.9,577.5 L889.9,577.1 L894.0,576.7 L898.0,576.2 L902.1,575.8 L906.1,575.4 L910.2,574.9 L914.2,574.4 L918.3,573.9 L922.3,573.4 L926.3,572.9 L930.3,572.4 L934.4,571.9 L938.4,571.3 L942.4,570.8 L946.4,570.2 L950.4,569.7 L954.4,569.1 L958.4,568.5 L962.4,568.0 L966.4,567.4 L970.4,566.8 L974.3,566.2 L978.3,565.6 L982.3,565.0 L986.2,564.4 L990.2,563.8 L994.1,563.2 L998.1,562.6 L1002.0,562.0" stroke="#743a0e" stroke-width="11" stroke-linecap="butt"/>
<path d="M635.2,511.2 L635.9,515.2 L637.0,519.1 L638.3,522.9 L639.9,526.6 L641.7,530.3 L643.8,533.8 L646.1,537.2 L648.6,540.5 L651.2,543.6 L654.1,546.6 L657.1,549.4 L660.2,552.0 L663.5,554.3 L666.8,556.5 L670.3,558.5 L673.9,560.3 L677.5,562.0 L681.2,563.5 L685.0,564.8 L688.8,566.1 L692.6,567.2 L696.5,568.3 L700.5,569.3 L704.4,570.2 L708.4,571.1 L712.3,571.9 L716.3,572.7 L720.3,573.5 L724.2,574.2 L728.2,574.9 L732.2,575.5 L736.2,576.2 L740.2,576.7 L744.2,577.3 L748.2,577.8 L752.2,578.2 L756.2,578.6 L760.3,579.0 L764.3,579.4 L768.3,579.7 L772.4,580.0 L776.4,580.3 L780.4,580.5 L784.5,580.7 L788.5,580.9 L792.6,581.0 L796.6,581.1 L800.6,581.2 L804.7,581.3 L808.8,581.3 L812.8,581.3 L816.9,581.3 L820.9,581.2 L825.0,581.2 L829.0,581.1 L833.1,581.0 L837.2,580.8 L841.2,580.6 L845.3,580.5 L849.4,580.2 L853.4,580.0 L857.5,579.8 L861.5,579.5 L865.6,579.2 L869.7,578.9 L873.7,578.6 L877.8,578.2 L881.8,577.8 L885.9,577.5 L889.9,577.1 L894.0,576.7 L898.0,576.2 L902.1,575.8 L906.1,575.4 L910.2,574.9 L914.2,574.4 L918.3,573.9 L922.3,573.4 L926.3,572.9 L930.3,572.4 L934.4,571.9 L938.4,571.3 L942.4,570.8 L946.4,570.2 L950.4,569.7 L954.4,569.1 L958.4,568.5 L962.4,568.0 L966.4,567.4 L970.4,566.8 L974.3,566.2 L978.3,565.6 L982.3,565.0 L986.2,564.4 L990.2,563.8 L994.1,563.2 L998.1,562.6 L1002.0,562.0" stroke="#8f5222" stroke-width="7.8" stroke-linecap="butt"/>
<path d="M635.2,511.2 L635.9,515.2 L637.0,519.1 L638.3,522.9 L639.9,526.6 L641.7,530.3 L643.8,533.8 L646.1,537.2 L648.6,540.5 L651.2,543.6 L654.1,546.6 L657.1,549.4 L660.2,552.0 L663.5,554.3 L666.8,556.5 L670.3,558.5 L673.9,560.3 L677.5,562.0 L681.2,563.5 L685.0,564.8 L688.8,566.1 L692.6,567.2 L696.5,568.3 L700.5,569.3 L704.4,570.2 L708.4,571.1 L712.3,571.9 L716.3,572.7 L720.3,573.5 L724.2,574.2 L728.2,574.9 L732.2,575.5 L736.2,576.2 L740.2,576.7 L744.2,577.3 L748.2,577.8 L752.2,578.2 L756.2,578.6 L760.3,579.0 L764.3,579.4 L768.3,579.7 L772.4,580.0 L776.4,580.3 L780.4,580.5 L784.5,580.7 L788.5,580.9 L792.6,581.0 L796.6,581.1 L800.6,581.2 L804.7,581.3 L808.8,581.3 L812.8,581.3 L816.9,581.3 L820.9,581.2 L825.0,581.2 L829.0,581.1 L833.1,581.0 L837.2,580.8 L841.2,580.6 L845.3,580.5 L849.4,580.2 L853.4,580.0 L857.5,579.8 L861.5,579.5 L865.6,579.2 L869.7,578.9 L873.7,578.6 L877.8,578.2 L881.8,577.8 L885.9,577.5 L889.9,577.1 L894.0,576.7 L898.0,576.2 L902.1,575.8 L906.1,575.4 L910.2,574.9 L914.2,574.4 L918.3,573.9 L922.3,573.4 L926.3,572.9 L930.3,572.4 L934.4,571.9 L938.4,571.3 L942.4,570.8 L946.4,570.2 L950.4,569.7 L954.4,569.1 L958.4,568.5 L962.4,568.0 L966.4,567.4 L970.4,566.8 L974.3,566.2 L978.3,565.6 L982.3,565.0 L986.2,564.4 L990.2,563.8 L994.1,563.2 L998.1,562.6 L1002.0,562.0" stroke="#b77a48" stroke-width="3.5" stroke-opacity="0.85" stroke-linecap="butt"/>
<path d="M457.0,873.0 L459.5,876.0 L462.1,879.0 L464.8,881.9 L467.6,884.6 L470.8,887.1 L474.2,889.5 L478.0,891.7 L482.0,893.7 L486.2,895.3 L490.4,896.5 L494.6,897.2 L498.6,897.4 L502.4,897.0 L505.8,895.9 L508.9,894.2 L511.6,891.9 L514.1,889.2 L516.4,886.1 L518.4,882.7 L520.3,879.0 L522.0,875.1 L523.6,871.2 L525.1,867.3 L526.5,863.3 L527.9,859.3 L529.1,855.4 L530.3,851.4 L531.5,847.5 L532.6,843.5 L533.6,839.5 L534.5,835.6 L535.4,831.6 L536.3,827.6 L537.1,823.7 L537.9,819.7 L538.6,815.7 L539.3,811.8 L540.0,807.8 L540.6,803.8 L541.2,799.8 L541.8,795.9 L542.3,791.9 L542.9,787.9 L543.4,783.9 L543.9,780.0 L544.4,776.0 L544.9,772.0 L545.4,768.0 L545.9,764.0 L546.4,760.1 L547.0,756.1 L547.5,752.1 L548.0,748.1 L548.6,744.1 L549.1,740.1 L549.7,736.1 L550.3,732.2 L550.8,728.2 L551.4,724.2 L552.0,720.2 L552.6,716.2 L553.2,712.2 L553.9,708.2 L554.5,704.2 L555.1,700.2 L555.7,696.2 L556.4,692.2 L557.0,688.2 L557.7,684.2 L558.4,680.2 L559.0,676.2 L559.7,672.2 L560.4,668.2 L561.1,664.2 L561.8,660.2 L562.5,656.2 L563.2,652.2 L563.9,648.2 L564.6,644.2 L565.3,640.2 L566.0,636.2 L566.8,632.2 L567.5,628.2 L568.2,624.2 L569.0,620.2 L569.7,616.2 L570.5,612.2 L571.2,608.2 L572.0,604.2 L572.7,600.2 L573.5,596.2 L574.3,592.2 L575.0,588.2 L575.8,584.2 L576.6,580.2 L577.4,576.2 L578.1,572.2 L578.9,568.2 L579.7,564.2 L580.5,560.2 L581.3,556.2 L582.1,552.2 L582.9,548.2 L583.7,544.2 L584.4,540.2 L585.2,536.2 L586.0,532.2 L586.8,528.2 L587.6,524.2 L588.4,520.2 L589.2,516.3 L590.0,512.3 L590.8,508.3 L591.6,504.3 L592.4,500.3 L593.2,496.3 L594.0,492.3 L594.8,488.3 L595.6,484.4 L596.4,480.4 L597.2,476.4 L598.0,472.4 L598.8,468.4 L599.6,464.5 L600.4,460.5 L601.2,456.5 L602.0,452.6 L602.8,448.6 L603.5,444.6 L604.3,440.6 L605.1,436.7 L605.9,432.7 L606.7,428.8 L607.4,424.8 L608.2,420.8 L609.0,416.9 L609.7,412.9 L610.5,409.0 L611.2,405.0 L612.0,401.1 L612.7,397.1 L613.5,393.2 L614.2,389.2" stroke="#1a3ad2" stroke-width="11"/>
<path d="M457.0,873.0 L459.5,876.0 L462.1,879.0 L464.8,881.9 L467.6,884.6 L470.8,887.1 L474.2,889.5 L478.0,891.7 L482.0,893.7 L486.2,895.3 L490.4,896.5 L494.6,897.2 L498.6,897.4 L502.4,897.0 L505.8,895.9 L508.9,894.2 L511.6,891.9 L514.1,889.2 L516.4,886.1 L518.4,882.7 L520.3,879.0 L522.0,875.1 L523.6,871.2 L525.1,867.3 L526.5,863.3 L527.9,859.3 L529.1,855.4 L530.3,851.4 L531.5,847.5 L532.6,843.5 L533.6,839.5 L534.5,835.6 L535.4,831.6 L536.3,827.6 L537.1,823.7 L537.9,819.7 L538.6,815.7 L539.3,811.8 L540.0,807.8 L540.6,803.8 L541.2,799.8 L541.8,795.9 L542.3,791.9 L542.9,787.9 L543.4,783.9 L543.9,780.0 L544.4,776.0 L544.9,772.0 L545.4,768.0 L545.9,764.0 L546.4,760.1 L547.0,756.1 L547.5,752.1 L548.0,748.1 L548.6,744.1 L549.1,740.1 L549.7,736.1 L550.3,732.2 L550.8,728.2 L551.4,724.2 L552.0,720.2 L552.6,716.2 L553.2,712.2 L553.9,708.2 L554.5,704.2 L555.1,700.2 L555.7,696.2 L556.4,692.2 L557.0,688.2 L557.7,684.2 L558.4,680.2 L559.0,676.2 L559.7,672.2 L560.4,668.2 L561.1,664.2 L561.8,660.2 L562.5,656.2 L563.2,652.2 L563.9,648.2 L564.6,644.2 L565.3,640.2 L566.0,636.2 L566.8,632.2 L567.5,628.2 L568.2,624.2 L569.0,620.2 L569.7,616.2 L570.5,612.2 L571.2,608.2 L572.0,604.2 L572.7,600.2 L573.5,596.2 L574.3,592.2 L575.0,588.2 L575.8,584.2 L576.6,580.2 L577.4,576.2 L578.1,572.2 L578.9,568.2 L579.7,564.2 L580.5,560.2 L581.3,556.2 L582.1,552.2 L582.9,548.2 L583.7,544.2 L584.4,540.2 L585.2,536.2 L586.0,532.2 L586.8,528.2 L587.6,524.2 L588.4,520.2 L589.2,516.3 L590.0,512.3 L590.8,508.3 L591.6,504.3 L592.4,500.3 L593.2,496.3 L594.0,492.3 L594.8,488.3 L595.6,484.4 L596.4,480.4 L597.2,476.4 L598.0,472.4 L598.8,468.4 L599.6,464.5 L600.4,460.5 L601.2,456.5 L602.0,452.6 L602.8,448.6 L603.5,444.6 L604.3,440.6 L605.1,436.7 L605.9,432.7 L606.7,428.8 L607.4,424.8 L608.2,420.8 L609.0,416.9 L609.7,412.9 L610.5,409.0 L611.2,405.0 L612.0,401.1 L612.7,397.1 L613.5,393.2 L614.2,389.2" stroke="#2f58e0" stroke-width="7.8"/>
<path d="M457.0,873.0 L459.5,876.0 L462.1,879.0 L464.8,881.9 L467.6,884.6 L470.8,887.1 L474.2,889.5 L478.0,891.7 L482.0,893.7 L486.2,895.3 L490.4,896.5 L494.6,897.2 L498.6,897.4 L502.4,897.0 L505.8,895.9 L508.9,894.2 L511.6,891.9 L514.1,889.2 L516.4,886.1 L518.4,882.7 L520.3,879.0 L522.0,875.1 L523.6,871.2 L525.1,867.3 L526.5,863.3 L527.9,859.3 L529.1,855.4 L530.3,851.4 L531.5,847.5 L532.6,843.5 L533.6,839.5 L534.5,835.6 L535.4,831.6 L536.3,827.6 L537.1,823.7 L537.9,819.7 L538.6,815.7 L539.3,811.8 L540.0,807.8 L540.6,803.8 L541.2,799.8 L541.8,795.9 L542.3,791.9 L542.9,787.9 L543.4,783.9 L543.9,780.0 L544.4,776.0 L544.9,772.0 L545.4,768.0 L545.9,764.0 L546.4,760.1 L547.0,756.1 L547.5,752.1 L548.0,748.1 L548.6,744.1 L549.1,740.1 L549.7,736.1 L550.3,732.2 L550.8,728.2 L551.4,724.2 L552.0,720.2 L552.6,716.2 L553.2,712.2 L553.9,708.2 L554.5,704.2 L555.1,700.2 L555.7,696.2 L556.4,692.2 L557.0,688.2 L557.7,684.2 L558.4,680.2 L559.0,676.2 L559.7,672.2 L560.4,668.2 L561.1,664.2 L561.8,660.2 L562.5,656.2 L563.2,652.2 L563.9,648.2 L564.6,644.2 L565.3,640.2 L566.0,636.2 L566.8,632.2 L567.5,628.2 L568.2,624.2 L569.0,620.2 L569.7,616.2 L570.5,612.2 L571.2,608.2 L572.0,604.2 L572.7,600.2 L573.5,596.2 L574.3,592.2 L575.0,588.2 L575.8,584.2 L576.6,580.2 L577.4,576.2 L578.1,572.2 L578.9,568.2 L579.7,564.2 L580.5,560.2 L581.3,556.2 L582.1,552.2 L582.9,548.2 L583.7,544.2 L584.4,540.2 L585.2,536.2 L586.0,532.2 L586.8,528.2 L587.6,524.2 L588.4,520.2 L589.2,516.3 L590.0,512.3 L590.8,508.3 L591.6,504.3 L592.4,500.3 L593.2,496.3 L594.0,492.3 L594.8,488.3 L595.6,484.4 L596.4,480.4 L597.2,476.4 L598.0,472.4 L598.8,468.4 L599.6,464.5 L600.4,460.5 L601.2,456.5 L602.0,452.6 L602.8,448.6 L603.5,444.6 L604.3,440.6 L605.1,436.7 L605.9,432.7 L606.7,428.8 L607.4,424.8 L608.2,420.8 L609.0,416.9 L609.7,412.9 L610.5,409.0 L611.2,405.0 L612.0,401.1 L612.7,397.1 L613.5,393.2 L614.2,389.2" stroke="#6a8ef2" stroke-width="3.5" stroke-opacity="0.85"/>
<path d="M626.5,388.4 L627.8,392.4 L629.3,396.2 L631.2,399.7 L633.3,403.1 L635.6,406.3 L638.1,409.3 L640.9,412.1 L643.8,414.7 L646.8,417.1 L650.0,419.4 L653.3,421.6 L656.7,423.6 L660.2,425.5 L663.7,427.3 L667.4,428.9 L671.0,430.4 L674.7,431.8 L678.5,433.1 L682.3,434.3 L686.2,435.5 L690.1,436.5 L694.1,437.4 L698.1,438.3 L702.1,439.1 L706.1,439.8 L710.2,440.5 L714.2,441.1 L718.3,441.6 L722.5,442.1 L726.6,442.6 L730.7,443.0 L734.8,443.4 L738.9,443.8 L743.1,444.1 L747.2,444.5 L751.3,444.8 L755.4,445.1 L759.5,445.3 L763.6,445.6 L767.6,445.8 L771.7,446.1 L775.8,446.3 L779.9,446.5 L783.9,446.7 L788.0,446.8 L792.0,447.0 L796.1,447.1 L800.1,447.2 L804.2,447.3 L808.2,447.4 L812.3,447.4 L816.3,447.5 L820.3,447.5 L824.4,447.6 L828.4,447.6 L832.4,447.6 L836.5,447.6 L840.5,447.5 L844.5,447.5 L848.5,447.5 L852.5,447.4 L856.6,447.3 L860.6,447.2 L864.6,447.1 L868.6,447.0 L872.6,446.9 L876.6,446.8 L880.6,446.7 L884.7,446.5 L888.7,446.4 L892.7,446.2 L896.7,446.0 L900.7,445.8 L904.7,445.7 L908.8,445.5 L912.8,445.3 L916.8,445.0 L920.8,444.8 L924.9,444.6 L928.9,444.4 L932.9,444.1 L936.9,443.9 L941.0,443.6 L945.0,443.4 L949.1,443.1 L953.1,442.8 L957.2,442.6 L961.2,442.3 L965.3,442.0 L969.3,441.7 L973.4,441.4 L977.5,441.1 L981.5,440.8 L985.6,440.5 L989.7,440.2 L993.8,439.9 L997.9,439.6 L1002.0,439.3" stroke="#fff" stroke-width="14" stroke-linecap="butt"/>
<path d="M626.5,388.4 L627.8,392.4 L629.3,396.2 L631.2,399.7 L633.3,403.1 L635.6,406.3 L638.1,409.3 L640.9,412.1 L643.8,414.7 L646.8,417.1 L650.0,419.4 L653.3,421.6 L656.7,423.6 L660.2,425.5 L663.7,427.3 L667.4,428.9 L671.0,430.4 L674.7,431.8 L678.5,433.1 L682.3,434.3 L686.2,435.5 L690.1,436.5 L694.1,437.4 L698.1,438.3 L702.1,439.1 L706.1,439.8 L710.2,440.5 L714.2,441.1 L718.3,441.6 L722.5,442.1 L726.6,442.6 L730.7,443.0 L734.8,443.4 L738.9,443.8 L743.1,444.1 L747.2,444.5 L751.3,444.8 L755.4,445.1 L759.5,445.3 L763.6,445.6 L767.6,445.8 L771.7,446.1 L775.8,446.3 L779.9,446.5 L783.9,446.7 L788.0,446.8 L792.0,447.0 L796.1,447.1 L800.1,447.2 L804.2,447.3 L808.2,447.4 L812.3,447.4 L816.3,447.5 L820.3,447.5 L824.4,447.6 L828.4,447.6 L832.4,447.6 L836.5,447.6 L840.5,447.5 L844.5,447.5 L848.5,447.5 L852.5,447.4 L856.6,447.3 L860.6,447.2 L864.6,447.1 L868.6,447.0 L872.6,446.9 L876.6,446.8 L880.6,446.7 L884.7,446.5 L888.7,446.4 L892.7,446.2 L896.7,446.0 L900.7,445.8 L904.7,445.7 L908.8,445.5 L912.8,445.3 L916.8,445.0 L920.8,444.8 L924.9,444.6 L928.9,444.4 L932.9,444.1 L936.9,443.9 L941.0,443.6 L945.0,443.4 L949.1,443.1 L953.1,442.8 L957.2,442.6 L961.2,442.3 L965.3,442.0 L969.3,441.7 L973.4,441.4 L977.5,441.1 L981.5,440.8 L985.6,440.5 L989.7,440.2 L993.8,439.9 L997.9,439.6 L1002.0,439.3" stroke="#1a3ad2" stroke-width="11" stroke-linecap="butt"/>
<path d="M626.5,388.4 L627.8,392.4 L629.3,396.2 L631.2,399.7 L633.3,403.1 L635.6,406.3 L638.1,409.3 L640.9,412.1 L643.8,414.7 L646.8,417.1 L650.0,419.4 L653.3,421.6 L656.7,423.6 L660.2,425.5 L663.7,427.3 L667.4,428.9 L671.0,430.4 L674.7,431.8 L678.5,433.1 L682.3,434.3 L686.2,435.5 L690.1,436.5 L694.1,437.4 L698.1,438.3 L702.1,439.1 L706.1,439.8 L710.2,440.5 L714.2,441.1 L718.3,441.6 L722.5,442.1 L726.6,442.6 L730.7,443.0 L734.8,443.4 L738.9,443.8 L743.1,444.1 L747.2,444.5 L751.3,444.8 L755.4,445.1 L759.5,445.3 L763.6,445.6 L767.6,445.8 L771.7,446.1 L775.8,446.3 L779.9,446.5 L783.9,446.7 L788.0,446.8 L792.0,447.0 L796.1,447.1 L800.1,447.2 L804.2,447.3 L808.2,447.4 L812.3,447.4 L816.3,447.5 L820.3,447.5 L824.4,447.6 L828.4,447.6 L832.4,447.6 L836.5,447.6 L840.5,447.5 L844.5,447.5 L848.5,447.5 L852.5,447.4 L856.6,447.3 L860.6,447.2 L864.6,447.1 L868.6,447.0 L872.6,446.9 L876.6,446.8 L880.6,446.7 L884.7,446.5 L888.7,446.4 L892.7,446.2 L896.7,446.0 L900.7,445.8 L904.7,445.7 L908.8,445.5 L912.8,445.3 L916.8,445.0 L920.8,444.8 L924.9,444.6 L928.9,444.4 L932.9,444.1 L936.9,443.9 L941.0,443.6 L945.0,443.4 L949.1,443.1 L953.1,442.8 L957.2,442.6 L961.2,442.3 L965.3,442.0 L969.3,441.7 L973.4,441.4 L977.5,441.1 L981.5,440.8 L985.6,440.5 L989.7,440.2 L993.8,439.9 L997.9,439.6 L1002.0,439.3" stroke="#2f58e0" stroke-width="7.8" stroke-linecap="butt"/>
<path d="M626.5,388.4 L627.8,392.4 L629.3,396.2 L631.2,399.7 L633.3,403.1 L635.6,406.3 L638.1,409.3 L640.9,412.1 L643.8,414.7 L646.8,417.1 L650.0,419.4 L653.3,421.6 L656.7,423.6 L660.2,425.5 L663.7,427.3 L667.4,428.9 L671.0,430.4 L674.7,431.8 L678.5,433.1 L682.3,434.3 L686.2,435.5 L690.1,436.5 L694.1,437.4 L698.1,438.3 L702.1,439.1 L706.1,439.8 L710.2,440.5 L714.2,441.1 L718.3,441.6 L722.5,442.1 L726.6,442.6 L730.7,443.0 L734.8,443.4 L738.9,443.8 L743.1,444.1 L747.2,444.5 L751.3,444.8 L755.4,445.1 L759.5,445.3 L763.6,445.6 L767.6,445.8 L771.7,446.1 L775.8,446.3 L779.9,446.5 L783.9,446.7 L788.0,446.8 L792.0,447.0 L796.1,447.1 L800.1,447.2 L804.2,447.3 L808.2,447.4 L812.3,447.4 L816.3,447.5 L820.3,447.5 L824.4,447.6 L828.4,447.6 L832.4,447.6 L836.5,447.6 L840.5,447.5 L844.5,447.5 L848.5,447.5 L852.5,447.4 L856.6,447.3 L860.6,447.2 L864.6,447.1 L868.6,447.0 L872.6,446.9 L876.6,446.8 L880.6,446.7 L884.7,446.5 L888.7,446.4 L892.7,446.2 L896.7,446.0 L900.7,445.8 L904.7,445.7 L908.8,445.5 L912.8,445.3 L916.8,445.0 L920.8,444.8 L924.9,444.6 L928.9,444.4 L932.9,444.1 L936.9,443.9 L941.0,443.6 L945.0,443.4 L949.1,443.1 L953.1,442.8 L957.2,442.6 L961.2,442.3 L965.3,442.0 L969.3,441.7 L973.4,441.4 L977.5,441.1 L981.5,440.8 L985.6,440.5 L989.7,440.2 L993.8,439.9 L997.9,439.6 L1002.0,439.3" stroke="#6a8ef2" stroke-width="3.5" stroke-opacity="0.85" stroke-linecap="butt"/>
</g>

<g id="conns">
<g transform="translate(623.3,398.7)"><path d="M-26.5,0 L26.5,0 L23.3,-31 L21.6,-31 L19.6,-80 Q19,-91 9,-91 L-9,-91 Q-19,-91 -19.6,-80 L-21.6,-31 L-23.3,-31 Z" fill="#f28b3c" stroke="#e2701e" stroke-width="1.4"/><path d="M-23.3,-31 L23.3,-31" stroke="#e2701e" stroke-width="1.8"/><path d="M-13.6,-84 L-14.3,-36" stroke="#e2711c" stroke-width="2.6" stroke-linecap="round"/><path d="M-6.8,-84 L-7.2,-36" stroke="#e2711c" stroke-width="2.6" stroke-linecap="round"/><path d="M0.0,-84 L0.0,-36" stroke="#e2711c" stroke-width="2.6" stroke-linecap="round"/><path d="M6.8,-84 L7.2,-36" stroke="#e2711c" stroke-width="2.6" stroke-linecap="round"/><path d="M13.6,-84 L14.3,-36" stroke="#e2711c" stroke-width="2.6" stroke-linecap="round"/></g>
<g transform="translate(630.2,521.1)"><path d="M-26.5,0 L26.5,0 L23.3,-31 L21.6,-31 L19.6,-80 Q19,-91 9,-91 L-9,-91 Q-19,-91 -19.6,-80 L-21.6,-31 L-23.3,-31 Z" fill="#f28b3c" stroke="#e2701e" stroke-width="1.4"/><path d="M-23.3,-31 L23.3,-31" stroke="#e2701e" stroke-width="1.8"/><path d="M-13.6,-84 L-14.3,-36" stroke="#e2711c" stroke-width="2.6" stroke-linecap="round"/><path d="M-6.8,-84 L-7.2,-36" stroke="#e2711c" stroke-width="2.6" stroke-linecap="round"/><path d="M0.0,-84 L0.0,-36" stroke="#e2711c" stroke-width="2.6" stroke-linecap="round"/><path d="M6.8,-84 L7.2,-36" stroke="#e2711c" stroke-width="2.6" stroke-linecap="round"/><path d="M13.6,-84 L14.3,-36" stroke="#e2711c" stroke-width="2.6" stroke-linecap="round"/></g>
<g transform="translate(641,670)"><path d="M-26.5,0 L26.5,0 L23.3,-31 L21.6,-31 L19.6,-80 Q19,-91 9,-91 L-9,-91 Q-19,-91 -19.6,-80 L-21.6,-31 L-23.3,-31 Z" fill="#f28b3c" stroke="#e2701e" stroke-width="1.4"/><path d="M-23.3,-31 L23.3,-31" stroke="#e2701e" stroke-width="1.8"/><path d="M-13.6,-84 L-14.3,-36" stroke="#e2711c" stroke-width="2.6" stroke-linecap="round"/><path d="M-6.8,-84 L-7.2,-36" stroke="#e2711c" stroke-width="2.6" stroke-linecap="round"/><path d="M0.0,-84 L0.0,-36" stroke="#e2711c" stroke-width="2.6" stroke-linecap="round"/><path d="M6.8,-84 L7.2,-36" stroke="#e2711c" stroke-width="2.6" stroke-linecap="round"/><path d="M13.6,-84 L14.3,-36" stroke="#e2711c" stroke-width="2.6" stroke-linecap="round"/></g>
<g transform="translate(655.8,812.2)"><path d="M-26.5,0 L26.5,0 L23.3,-31 L21.6,-31 L19.6,-80 Q19,-91 9,-91 L-9,-91 Q-19,-91 -19.6,-80 L-21.6,-31 L-23.3,-31 Z" fill="#f28b3c" stroke="#e2701e" stroke-width="1.4"/><path d="M-23.3,-31 L23.3,-31" stroke="#e2701e" stroke-width="1.8"/><path d="M-13.6,-84 L-14.3,-36" stroke="#e2711c" stroke-width="2.6" stroke-linecap="round"/><path d="M-6.8,-84 L-7.2,-36" stroke="#e2711c" stroke-width="2.6" stroke-linecap="round"/><path d="M0.0,-84 L0.0,-36" stroke="#e2711c" stroke-width="2.6" stroke-linecap="round"/><path d="M6.8,-84 L7.2,-36" stroke="#e2711c" stroke-width="2.6" stroke-linecap="round"/><path d="M13.6,-84 L14.3,-36" stroke="#e2711c" stroke-width="2.6" stroke-linecap="round"/></g>
<g transform="translate(658,945.8)"><path d="M-26.5,0 L26.5,0 L23.3,-31 L21.6,-31 L19.6,-80 Q19,-91 9,-91 L-9,-91 Q-19,-91 -19.6,-80 L-21.6,-31 L-23.3,-31 Z" fill="#f28b3c" stroke="#e2701e" stroke-width="1.4"/><path d="M-23.3,-31 L23.3,-31" stroke="#e2701e" stroke-width="1.8"/><path d="M-13.6,-84 L-14.3,-36" stroke="#e2711c" stroke-width="2.6" stroke-linecap="round"/><path d="M-6.8,-84 L-7.2,-36" stroke="#e2711c" stroke-width="2.6" stroke-linecap="round"/><path d="M0.0,-84 L0.0,-36" stroke="#e2711c" stroke-width="2.6" stroke-linecap="round"/><path d="M6.8,-84 L7.2,-36" stroke="#e2711c" stroke-width="2.6" stroke-linecap="round"/><path d="M13.6,-84 L14.3,-36" stroke="#e2711c" stroke-width="2.6" stroke-linecap="round"/></g>
</g>
<g id="labels" font-family="Liberation Sans, sans-serif" font-size="19" fill="#000" stroke="#000" stroke-width="0.35">
<g transform="translate(306.1,921.1) skewY(-23)"><text x="0" y="0">N</text></g>
<g transform="translate(346.1,907) skewY(-23)"><text x="0" y="0">L</text></g>
<g transform="translate(377.6,893.7) skewY(-23)"><text x="0" y="0">L1</text></g>
<g transform="translate(415.1,878) skewY(-23)"><text x="0" y="0">L2</text></g>
<g transform="translate(451.1,863.2) skewY(-23)"><text x="0" y="0">L3</text></g>
</g>
<g id="screws" fill="none" stroke="#000" stroke-width="2.6" stroke-linecap="round">
<path d="M2.0,4.23 A11.5,4.3 0 1 1 10.8,1.47" transform="translate(306.7,939.1) rotate(-50)"/>
<path d="M2.0,4.23 A11.5,4.3 0 1 1 10.8,1.47" transform="translate(346.6,922.6) rotate(-50)"/>
<path d="M2.0,4.23 A11.5,4.3 0 1 1 10.8,1.47" transform="translate(384.2,907) rotate(-50)"/>
<path d="M2.0,4.23 A11.5,4.3 0 1 1 10.8,1.47" transform="translate(420.2,892.1) rotate(-50)"/>
<path d="M2.0,4.23 A11.5,4.3 0 1 1 10.8,1.47" transform="translate(457.8,876.5) rotate(-50)"/>
</g>
<g id="legend" font-family="Liberation Sans, sans-serif" font-size="26.7" fill="#000">
<rect x="20.5" y="1149.8" width="73.5" height="9.4" fill="#fff" stroke="#000" stroke-width="2"/>
<rect x="248.2" y="1148.8" width="74.7" height="11.2" fill="#000"/>
<rect x="473.3" y="1148.8" width="75.2" height="11.2" fill="#f00a0a"/>
<rect x="702.9" y="1148.9" width="75" height="10.8" fill="#8a4510"/>
<rect x="964.8" y="1149.1" width="74.4" height="10.7" fill="#0b40e8"/>
<path d="M148.2,1143.3 Q135.4,1155 148.2,1166.6" fill="none" stroke="#000" stroke-width="1.6"/>
<path d="M373.2,1143.3 Q360.4,1155 373.2,1166.6" fill="none" stroke="#000" stroke-width="1.6"/>
<path d="M627.8,1143.3 Q615.0,1155 627.8,1166.6" fill="none" stroke="#000" stroke-width="1.6"/>
<path d="M855.2,1143.3 Q842.4,1155 855.2,1166.6" fill="none" stroke="#000" stroke-width="1.6"/>
<path d="M1113.8,1143.3 Q1101.0,1155 1113.8,1166.6" fill="none" stroke="#000" stroke-width="1.6"/>
<path d="M224.2,1143.3 Q237.0,1155 224.2,1166.6" fill="none" stroke="#000" stroke-width="1.6"/>
<path d="M445.5,1143.3 Q458.3,1155 445.5,1166.6" fill="none" stroke="#000" stroke-width="1.6"/>
<path d="M684.1,1143.3 Q696.9,1155 684.1,1166.6" fill="none" stroke="#000" stroke-width="1.6"/>
<path d="M937.5,1143.3 Q950.3,1155 937.5,1166.6" fill="none" stroke="#000" stroke-width="1.6"/>
<path d="M1173.3,1143.3 Q1186.1,1155 1173.3,1166.6" fill="none" stroke="#000" stroke-width="1.6"/>
<text x="105.3" y="1162.6">N</text>
<text transform="translate(152.3,1162.6) scale(1.035,1)" x="0" y="0">White</text>
<text x="333.7" y="1162.6">L</text>
<text transform="translate(375.8,1162.6) scale(1.04,1)" x="0" y="0">Black</text>
<text x="565.7" y="1162.6">L</text>
<text x="586.4" y="1162.6">1</text>
<text transform="translate(631,1162.6) scale(1.08,1)" x="0" y="0">Red</text>
<text x="793.5" y="1162.6">L</text>
<text x="814.1" y="1162.6">2</text>
<text transform="translate(856.9,1162.6) scale(1.05,1)" x="0" y="0">Brown</text>
<text x="1053.4" y="1162.6">L</text>
<text x="1073.4" y="1162.6">3</text>
<text transform="translate(1116.5,1162.6) scale(1.085,1)" x="0" y="0">Blue</text>
</g>

</svg>
</body></html>
